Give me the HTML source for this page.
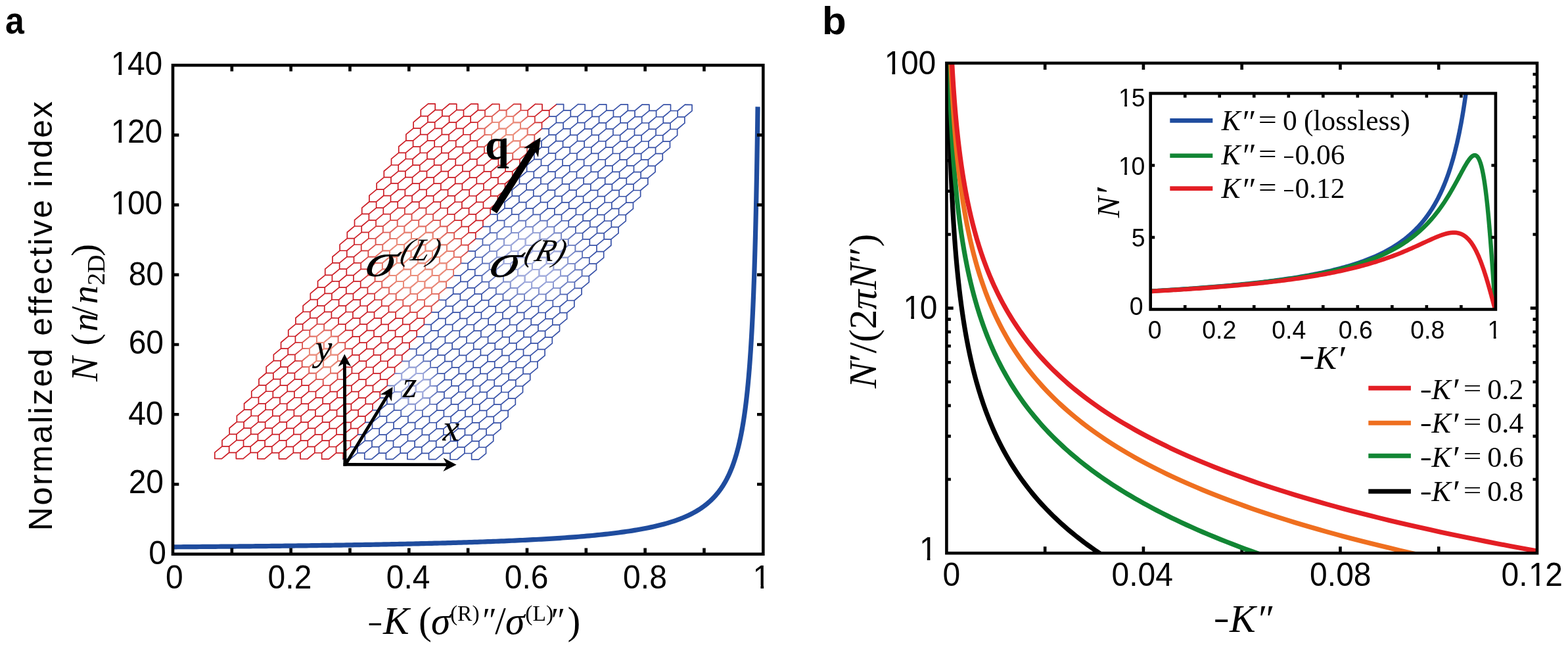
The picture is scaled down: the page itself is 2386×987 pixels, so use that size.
<!DOCTYPE html>
<html><head><meta charset="utf-8"><title>Figure</title>
<style>html,body{margin:0;padding:0;background:#fff;}svg{display:block;}</style>
</head><body>
<svg width="2386" height="987" viewBox="0 0 2386 987">
<rect width="2386" height="987" fill="#fff"/>
<defs>
<clipPath id="cpa"><rect x="263" y="99.2" width="898.3" height="743.5"/></clipPath>
<clipPath id="cpb"><rect x="1440.4" y="96" width="898.6" height="745.2"/></clipPath>
<clipPath id="cpi"><rect x="1750.7" y="142" width="525.2" height="328.5"/></clipPath>
</defs>
<defs>
<path id="lr" d="M651.5 157.9L662.19 157.96M662.19 157.96L662.19 167.26M662.19 167.26L650.99 176.56M650.99 176.56L640.3 176.51M640.3 176.51L640.3 167.2M640.3 167.2L651.5 157.9M684.07 158.01L694.76 158.06M694.76 158.06L694.76 167.37M694.76 167.37L683.56 176.67M683.56 176.67L672.87 176.62M672.87 176.62L672.87 167.31M672.87 167.31L684.07 158.01M716.64 158.12L727.33 158.18M727.33 158.18L727.33 167.48M727.33 167.48L716.13 176.78M716.13 176.78L705.45 176.73M705.45 176.73L705.45 167.42M705.45 167.42L716.64 158.12M749.21 158.23L759.9 158.29M759.9 158.29L759.9 167.59M759.9 167.59L748.7 176.89M748.7 176.89L738.02 176.84M738.02 176.84L738.02 167.53M738.02 167.53L749.21 158.23M781.78 158.34L792.47 158.4M792.47 158.4L792.47 167.7M792.47 167.7L781.27 177M781.27 177L770.59 176.95M770.59 176.95L770.59 167.64M770.59 167.64L781.78 158.34M814.36 158.45L825.04 158.5M825.04 158.5L825.04 167.81M825.04 167.81L813.85 177.11M813.85 177.11L803.16 177.06M803.16 177.06L803.16 167.75M803.16 167.75L814.36 158.45M835.73 177.17L835.73 167.86M835.73 167.86L846.93 158.56M662.19 167.26L672.87 167.31M672.87 176.62L661.68 185.92M661.68 185.92L650.99 185.87M650.99 185.87L650.99 176.56M694.76 167.37L705.45 167.42M705.45 176.73L694.25 186.03M694.25 186.03L683.56 185.98M683.56 185.98L683.56 176.67M727.33 167.48L738.02 167.53M738.02 176.84L726.82 186.14M726.82 186.14L716.13 186.09M716.13 186.09L716.13 176.78M759.9 167.59L770.59 167.64M770.59 176.95L759.39 186.25M759.39 186.25L748.7 186.2M748.7 186.2L748.7 176.89M792.47 167.7L803.16 167.75M803.16 177.06L791.96 186.36M791.96 186.36L781.27 186.31M781.27 186.31L781.27 177M825.04 167.81L835.73 167.86M835.73 177.17L824.53 186.47M824.53 186.47L813.85 186.42M813.85 186.42L813.85 177.11M650.99 185.87L639.79 195.17M639.79 195.17L629.11 195.11M629.11 195.11L629.11 185.81M629.11 185.81L640.3 176.51M683.56 185.98L672.36 195.28M672.36 195.28L661.68 195.22M661.68 195.22L661.68 185.92M716.13 186.09L704.93 195.39M704.93 195.39L694.25 195.33M694.25 195.33L694.25 186.03M748.7 186.2L737.51 195.5M737.51 195.5L726.82 195.44M726.82 195.44L726.82 186.14M781.27 186.31L770.08 195.61M770.08 195.61L759.39 195.55M759.39 195.55L759.39 186.25M813.85 186.42L802.65 195.72M802.65 195.72L791.96 195.66M791.96 195.66L791.96 186.36M824.53 195.77L824.53 186.47M661.68 195.22L650.48 204.53M650.48 204.53L639.79 204.47M639.79 204.47L639.79 195.17M694.25 195.33L683.05 204.64M683.05 204.64L672.36 204.58M672.36 204.58L672.36 195.28M726.82 195.44L715.62 204.75M715.62 204.75L704.94 204.69M704.94 204.69L704.94 195.39M759.39 195.55L748.19 204.86M748.19 204.86L737.51 204.8M737.51 204.8L737.51 195.5M791.96 195.66L780.76 204.97M780.76 204.97L770.08 204.91M770.08 204.91L770.08 195.61M824.53 195.77L813.34 205.08M813.34 205.08L802.65 205.02M802.65 205.02L802.65 195.72M639.79 204.47L628.6 213.78M628.6 213.78L617.91 213.72M617.91 213.72L617.91 204.42M617.91 204.42L629.11 195.11M672.36 204.58L661.17 213.89M661.17 213.89L650.48 213.83M650.48 213.83L650.48 204.53M704.94 204.69L693.74 214M693.74 214L683.05 213.94M683.05 213.94L683.05 204.64M737.51 204.8L726.31 214.11M726.31 214.11L715.62 214.05M715.62 214.05L715.62 204.75M770.08 204.91L758.88 214.22M758.88 214.22L748.19 214.16M748.19 214.16L748.19 204.86M802.65 205.02L791.45 214.33M791.45 214.33L780.76 214.27M780.76 214.27L780.76 204.97M813.33 214.38L813.33 205.08M650.48 213.83L639.28 223.13M639.28 223.13L628.6 223.08M628.6 223.08L628.6 213.78M683.05 213.94L671.85 223.24M671.85 223.24L661.17 223.19M661.17 223.19L661.17 213.89M715.62 214.05L704.42 223.35M704.42 223.35L693.74 223.3M693.74 223.3L693.74 214M748.19 214.16L737 223.46M737 223.46L726.31 223.41M726.31 223.41L726.31 214.11M780.76 214.27L769.57 223.57M769.57 223.57L758.88 223.52M758.88 223.52L758.88 214.22M813.34 214.38L802.14 223.68M802.14 223.68L791.45 223.63M791.45 223.63L791.45 214.33M628.6 223.08L617.4 232.38M617.4 232.38L606.71 232.33M606.71 232.33L606.71 223.02M606.71 223.02L617.91 213.72M661.17 223.19L649.97 232.49M649.97 232.49L639.28 232.44M639.28 232.44L639.28 223.13M693.74 223.3L682.54 232.6M682.54 232.6L671.85 232.55M671.85 232.55L671.85 223.24M726.31 223.41L715.11 232.71M715.11 232.71L704.42 232.66M704.42 232.66L704.42 223.35M758.88 223.52L747.68 232.82M747.68 232.82L737 232.77M737 232.77L737 223.46M791.45 223.63L780.25 232.93M780.25 232.93L769.57 232.88M769.57 232.88L769.57 223.57M802.14 232.99L802.14 223.68M639.28 232.44L628.09 241.74M628.09 241.74L617.4 241.69M617.4 241.69L617.4 232.38M671.85 232.55L660.66 241.85M660.66 241.85L649.97 241.8M649.97 241.8L649.97 232.49M704.43 232.66L693.23 241.96M693.23 241.96L682.54 241.91M682.54 241.91L682.54 232.6M737 232.77L725.8 242.07M725.8 242.07L715.11 242.02M715.11 242.02L715.11 232.71M769.57 232.88L758.37 242.18M758.37 242.18L747.68 242.13M747.68 242.13L747.68 232.82M802.14 232.99L790.94 242.29M790.94 242.29L780.25 242.24M780.25 242.24L780.25 232.93M617.4 241.69L606.2 250.99M606.2 250.99L595.51 250.94M595.51 250.94L595.51 241.63M595.51 241.63L606.71 232.33M649.97 241.8L638.77 251.1M638.77 251.1L628.09 251.04M628.09 251.04L628.09 241.74M682.54 241.91L671.34 251.21M671.34 251.21L660.66 251.15M660.66 251.15L660.66 241.85M715.11 242.02L703.91 251.32M703.91 251.32L693.23 251.26M693.23 251.26L693.23 241.96M747.68 242.13L736.49 251.43M736.49 251.43L725.8 251.38M725.8 251.38L725.8 242.07M780.25 242.24L769.06 251.54M769.06 251.54L758.37 251.48M758.37 251.48L758.37 242.18M790.94 251.59L790.94 242.29M628.09 251.05L616.89 260.35M616.89 260.35L606.2 260.29M606.2 260.29L606.2 250.99M660.66 251.15L649.46 260.46M649.46 260.46L638.77 260.4M638.77 260.4L638.77 251.1M693.23 251.26L682.03 260.57M682.03 260.57L671.34 260.51M671.34 260.51L671.34 251.21M725.8 251.38L714.6 260.68M714.6 260.68L703.91 260.62M703.91 260.62L703.91 251.32M758.37 251.49L747.17 260.79M747.17 260.79L736.49 260.73M736.49 260.73L736.49 251.43M790.94 251.59L779.74 260.9M779.74 260.9L769.06 260.84M769.06 260.84L769.06 251.54M606.2 260.29L595 269.6M595 269.6L584.32 269.54M584.32 269.54L584.32 260.24M584.32 260.24L595.51 250.94M638.77 260.4L627.58 269.71M627.58 269.71L616.89 269.65M616.89 269.65L616.89 260.35M671.34 260.51L660.15 269.82M660.15 269.82L649.46 269.76M649.46 269.76L649.46 260.46M703.91 260.62L692.72 269.93M692.72 269.93L682.03 269.87M682.03 269.87L682.03 260.57M736.49 260.73L725.29 270.04M725.29 270.04L714.6 269.98M714.6 269.98L714.6 260.68M769.06 260.84L757.86 270.15M757.86 270.15L747.17 270.09M747.17 270.09L747.17 260.79M779.74 270.2L779.74 260.9M616.89 269.65L605.69 278.96M605.69 278.96L595 278.9M595 278.9L595 269.6M649.46 269.76L638.26 279.07M638.26 279.07L627.58 279.01M627.58 279.01L627.58 269.71M682.03 269.87L670.83 279.18M670.83 279.18L660.15 279.12M660.15 279.12L660.15 269.82M714.6 269.98L703.4 279.29M703.4 279.29L692.72 279.23M692.72 279.23L692.72 269.93M747.17 270.09L735.98 279.4M735.98 279.4L725.29 279.34M725.29 279.34L725.29 270.04M779.74 270.2L768.55 279.51M768.55 279.51L757.86 279.45M757.86 279.45L757.86 270.15M595 278.9L583.81 288.2M583.81 288.2L573.12 288.15M573.12 288.15L573.12 278.85M573.12 278.85L584.32 269.54M627.58 279.01L616.38 288.31M616.38 288.31L605.69 288.26M605.69 288.26L605.69 278.96M660.15 279.12L648.95 288.42M648.95 288.42L638.26 288.37M638.26 288.37L638.26 279.07M692.72 279.23L681.52 288.53M681.52 288.53L670.83 288.48M670.83 288.48L670.83 279.18M725.29 279.34L714.09 288.64M714.09 288.64L703.4 288.59M703.4 288.59L703.4 279.29M757.86 279.45L746.66 288.75M746.66 288.75L735.98 288.7M735.98 288.7L735.98 279.4M768.55 288.81L768.55 279.51M605.69 288.26L594.5 297.56M594.5 297.56L583.81 297.51M583.81 297.51L583.81 288.2M638.26 288.37L627.07 297.67M627.07 297.67L616.38 297.62M616.38 297.62L616.38 288.31M670.83 288.48L659.64 297.78M659.64 297.78L648.95 297.73M648.95 297.73L648.95 288.42M703.4 288.59L692.21 297.89M692.21 297.89L681.52 297.84M681.52 297.84L681.52 288.53M735.98 288.7L724.78 298M724.78 298L714.09 297.95M714.09 297.95L714.09 288.64M768.55 288.81L757.35 298.11M757.35 298.11L746.66 298.06M746.66 298.06L746.66 288.75M583.81 297.51L572.61 306.81M572.61 306.81L561.92 306.76M561.92 306.76L561.92 297.45M561.92 297.45L573.12 288.15M616.38 297.62L605.18 306.92M605.18 306.92L594.5 306.87M594.5 306.87L594.5 297.56M648.95 297.73L637.75 307.03M637.75 307.03L627.07 306.98M627.07 306.98L627.07 297.67M681.52 297.84L670.32 307.14M670.32 307.14L659.64 307.09M659.64 307.09L659.64 297.78M714.09 297.95L702.89 307.25M702.89 307.25L692.21 307.2M692.21 307.2L692.21 297.89M746.66 298.06L735.47 307.36M735.47 307.36L724.78 307.31M724.78 307.31L724.78 298M757.35 307.42L757.35 298.11M594.5 306.87L583.3 316.17M583.3 316.17L572.61 316.11M572.61 316.11L572.61 306.81M627.07 306.98L615.87 316.28M615.87 316.28L605.18 316.22M605.18 316.22L605.18 306.92M659.64 307.09L648.44 316.39M648.44 316.39L637.75 316.33M637.75 316.33L637.75 307.03M692.21 307.2L681.01 316.5M681.01 316.5L670.32 316.44M670.32 316.44L670.32 307.14M724.78 307.31L713.58 316.61M713.58 316.61L702.89 316.55M702.89 316.55L702.89 307.25M757.35 307.42L746.15 316.72M746.15 316.72L735.47 316.66M735.47 316.66L735.47 307.36M572.61 316.11L561.41 325.42M561.41 325.42L550.73 325.36M550.73 325.36L550.73 316.06M550.73 316.06L561.92 306.76M605.18 316.22L593.99 325.53M593.99 325.53L583.3 325.47M583.3 325.47L583.3 316.17M637.75 316.33L626.56 325.64M626.56 325.64L615.87 325.58M615.87 325.58L615.87 316.28M670.32 316.44L659.13 325.75M659.13 325.75L648.44 325.69M648.44 325.69L648.44 316.39M702.89 316.55L691.7 325.86M691.7 325.86L681.01 325.8M681.01 325.8L681.01 316.5M735.47 316.66L724.27 325.97M724.27 325.97L713.58 325.91M713.58 325.91L713.58 316.61M746.15 326.02L746.15 316.72M583.3 325.47L572.1 334.78M572.1 334.78L561.41 334.72M561.41 334.72L561.41 325.42M615.87 325.58L604.67 334.89M604.67 334.89L593.99 334.83M593.99 334.83L593.99 325.53M648.44 325.69L637.24 335M637.24 335L626.56 334.94M626.56 334.94L626.56 325.64M681.01 325.8L669.81 335.11M669.81 335.11L659.13 335.05M659.13 335.05L659.13 325.75M713.58 325.91L702.38 335.22M702.38 335.22L691.7 335.16M691.7 335.16L691.7 325.86M746.15 326.02L734.96 335.33M734.96 335.33L724.27 335.27M724.27 335.27L724.27 325.97M561.41 334.72L550.22 344.02M550.22 344.02L539.53 343.97M539.53 343.97L539.53 334.67M539.53 334.67L550.73 325.36M593.99 334.83L582.79 344.13M582.79 344.13L572.1 344.08M572.1 344.08L572.1 334.78M626.56 334.94L615.36 344.24M615.36 344.24L604.67 344.19M604.67 344.19L604.67 334.89M659.13 335.05L647.93 344.35M647.93 344.35L637.24 344.3M637.24 344.3L637.24 335M691.7 335.16L680.5 344.46M680.5 344.46L669.81 344.41M669.81 344.41L669.81 335.11M724.27 335.27L713.07 344.57M713.07 344.57L702.38 344.52M702.38 344.52L702.38 335.22M734.96 344.63L734.96 335.33M572.1 344.08L560.9 353.38M560.9 353.38L550.22 353.33M550.22 353.33L550.22 344.02M604.67 344.19L593.48 353.49M593.48 353.49L582.79 353.44M582.79 353.44L582.79 344.13M637.24 344.3L626.05 353.6M626.05 353.6L615.36 353.55M615.36 353.55L615.36 344.25M669.81 344.41L658.62 353.71M658.62 353.71L647.93 353.66M647.93 353.66L647.93 344.35M702.38 344.52L691.19 353.82M691.19 353.82L680.5 353.77M680.5 353.77L680.5 344.46M734.96 344.63L723.76 353.93M723.76 353.93L713.07 353.88M713.07 353.88L713.07 344.57M550.22 353.33L539.02 362.63M539.02 362.63L528.33 362.58M528.33 362.58L528.33 353.27M528.33 353.27L539.53 343.97M582.79 353.44L571.59 362.74M571.59 362.74L560.9 362.69M560.9 362.69L560.9 353.38M615.36 353.55L604.16 362.85M604.16 362.85L593.48 362.8M593.48 362.8L593.48 353.49M647.93 353.66L636.73 362.96M636.73 362.96L626.05 362.91M626.05 362.91L626.05 353.6M680.5 353.77L669.3 363.07M669.3 363.07L658.62 363.02M658.62 363.02L658.62 353.71M713.07 353.88L701.88 363.18M701.88 363.18L691.19 363.13M691.19 363.13L691.19 353.82M723.76 363.24L723.76 353.93M560.9 362.69L549.71 371.99M549.71 371.99L539.02 371.94M539.02 371.94L539.02 362.63M593.48 362.8L582.28 372.1M582.28 372.1L571.59 372.05M571.59 372.05L571.59 362.74M626.05 362.91L614.85 372.21M614.85 372.21L604.16 372.16M604.16 372.16L604.16 362.85M658.62 363.02L647.42 372.32M647.42 372.32L636.73 372.27M636.73 372.27L636.73 362.96M691.19 363.13L679.99 372.43M679.99 372.43L669.3 372.38M669.3 372.38L669.3 363.07M723.76 363.24L712.56 372.54M712.56 372.54L701.88 372.49M701.88 372.49L701.88 363.18M539.02 371.94L527.82 381.24M527.82 381.24L517.14 381.18M517.14 381.18L517.14 371.88M517.14 371.88L528.33 362.58M571.59 372.05L560.39 381.35M560.39 381.35L549.71 381.29M549.71 381.29L549.71 371.99M604.16 372.16L592.96 381.46M592.96 381.46L582.28 381.4M582.28 381.4L582.28 372.1M636.73 372.27L625.54 381.57M625.54 381.57L614.85 381.51M614.85 381.51L614.85 372.21M669.3 372.38L658.11 381.68M658.11 381.68L647.42 381.62M647.42 381.62L647.42 372.32M701.88 372.49L690.68 381.79M690.68 381.79L679.99 381.73M679.99 381.73L679.99 372.43M712.56 381.84L712.56 372.54M549.71 381.29L538.51 390.6M538.51 390.6L527.82 390.54M527.82 390.54L527.82 381.24M582.28 381.4L571.08 390.71M571.08 390.71L560.39 390.65M560.39 390.65L560.39 381.35M614.85 381.51L603.65 390.82M603.65 390.82L592.97 390.76M592.97 390.76L592.97 381.46M647.42 381.62L636.22 390.93M636.22 390.93L625.54 390.87M625.54 390.87L625.54 381.57M679.99 381.73L668.79 391.04M668.79 391.04L658.11 390.98M658.11 390.98L658.11 381.68M712.56 381.84L701.37 391.15M701.37 391.15L690.68 391.09M690.68 391.09L690.68 381.79M527.82 390.54L516.63 399.85M516.63 399.85L505.94 399.79M505.94 399.79L505.94 390.49M505.94 390.49L517.14 381.18M560.39 390.65L549.2 399.96M549.2 399.96L538.51 399.9M538.51 399.9L538.51 390.6M592.97 390.76L581.77 400.07M581.77 400.07L571.08 400.01M571.08 400.01L571.08 390.71M625.54 390.87L614.34 400.18M614.34 400.18L603.65 400.12M603.65 400.12L603.65 390.82M658.11 390.98L646.91 400.29M646.91 400.29L636.22 400.23M636.22 400.23L636.22 390.93M690.68 391.09L679.48 400.4M679.48 400.4L668.79 400.34M668.79 400.34L668.79 391.04M701.36 400.45L701.36 391.15M538.51 399.9L527.31 409.2M527.31 409.2L516.63 409.15M516.63 409.15L516.63 399.85M571.08 400.01L559.88 409.31M559.88 409.31L549.2 409.26M549.2 409.26L549.2 399.96M603.65 400.12L592.45 409.42M592.45 409.42L581.77 409.37M581.77 409.37L581.77 400.07M636.22 400.23L625.03 409.53M625.03 409.53L614.34 409.48M614.34 409.48L614.34 400.18M668.79 400.34L657.6 409.64M657.6 409.64L646.91 409.59M646.91 409.59L646.91 400.29M701.37 400.45L690.17 409.75M690.17 409.75L679.48 409.7M679.48 409.7L679.48 400.4M516.63 409.15L505.43 418.45M505.43 418.45L494.74 418.4M494.74 418.4L494.74 409.09M494.74 409.09L505.94 399.79M549.2 409.26L538 418.56M538 418.56L527.31 418.51M527.31 418.51L527.31 409.2M581.77 409.37L570.57 418.67M570.57 418.67L559.88 418.62M559.88 418.62L559.88 409.31M614.34 409.48L603.14 418.78M603.14 418.78L592.46 418.73M592.46 418.73L592.46 409.42M646.91 409.59L635.71 418.89M635.71 418.89L625.03 418.84M625.03 418.84L625.03 409.53M679.48 409.7L668.28 419M668.28 419L657.6 418.95M657.6 418.95L657.6 409.64M690.17 419.06L690.17 409.75M527.31 418.51L516.12 427.81M516.12 427.81L505.43 427.76M505.43 427.76L505.43 418.45M559.88 418.62L548.69 427.92M548.69 427.92L538 427.87M538 427.87L538 418.56M592.46 418.73L581.26 428.03M581.26 428.03L570.57 427.98M570.57 427.98L570.57 418.67M625.03 418.84L613.83 428.14M613.83 428.14L603.14 428.09M603.14 428.09L603.14 418.78M657.6 418.95L646.4 428.25M646.4 428.25L635.71 428.2M635.71 428.2L635.71 418.89M690.17 419.06L678.97 428.36M678.97 428.36L668.28 428.31M668.28 428.31L668.28 419M505.43 427.76L494.23 437.06M494.23 437.06L483.55 437M483.55 437L483.55 427.7M483.55 427.7L494.74 418.4M538 427.87L526.8 437.17M526.8 437.17L516.12 437.12M516.12 437.12L516.12 427.81M570.57 427.98L559.37 437.28M559.37 437.28L548.69 437.23M548.69 437.23L548.69 427.92M603.14 428.09L591.95 437.39M591.95 437.39L581.26 437.33M581.26 437.33L581.26 428.03M635.71 428.2L624.52 437.5M624.52 437.5L613.83 437.44M613.83 437.44L613.83 428.14M668.28 428.31L657.09 437.61M657.09 437.61L646.4 437.56M646.4 437.56L646.4 428.25M678.97 437.66L678.97 428.36M516.12 437.12L504.92 446.42M504.92 446.42L494.23 446.36M494.23 446.36L494.23 437.06M548.69 437.23L537.49 446.53M537.49 446.53L526.8 446.47M526.8 446.47L526.8 437.17M581.26 437.33L570.06 446.64M570.06 446.64L559.37 446.58M559.37 446.58L559.37 437.28M613.83 437.44L602.63 446.75M602.63 446.75L591.95 446.69M591.95 446.69L591.95 437.39M646.4 437.56L635.2 446.86M635.2 446.86L624.52 446.8M624.52 446.8L624.52 437.5M678.97 437.67L667.77 446.97M667.77 446.97L657.09 446.91M657.09 446.91L657.09 437.61M494.23 446.36L483.04 455.67M483.04 455.67L472.35 455.61M472.35 455.61L472.35 446.31M472.35 446.31L483.55 437M526.8 446.47L515.61 455.78M515.61 455.78L504.92 455.72M504.92 455.72L504.92 446.42M559.37 446.58L548.18 455.89M548.18 455.89L537.49 455.83M537.49 455.83L537.49 446.53M591.95 446.69L580.75 456M580.75 456L570.06 455.94M570.06 455.94L570.06 446.64M624.52 446.8L613.32 456.11M613.32 456.11L602.63 456.05M602.63 456.05L602.63 446.75M657.09 446.91L645.89 456.22M645.89 456.22L635.2 456.16M635.2 456.16L635.2 446.86M667.77 456.27L667.77 446.97M504.92 455.72L493.72 465.03M493.72 465.03L483.04 464.97M483.04 464.97L483.04 455.67M537.49 455.83L526.29 465.14M526.29 465.14L515.61 465.08M515.61 465.08L515.61 455.78M570.06 455.94L558.86 465.25M558.86 465.25L548.18 465.19M548.18 465.19L548.18 455.89M602.63 456.05L591.44 465.36M591.44 465.36L580.75 465.3M580.75 465.3L580.75 456M635.2 456.16L624.01 465.47M624.01 465.47L613.32 465.41M613.32 465.41L613.32 456.11M667.77 456.27L656.58 465.58M656.58 465.58L645.89 465.52M645.89 465.52L645.89 456.22M483.04 464.97L471.84 474.27M471.84 474.27L461.15 474.22M461.15 474.22L461.15 464.92M461.15 464.92L472.35 455.61M515.61 465.08L504.41 474.38M504.41 474.38L493.72 474.33M493.72 474.33L493.72 465.03M548.18 465.19L536.98 474.49M536.98 474.49L526.29 474.44M526.29 474.44L526.29 465.14M580.75 465.3L569.55 474.6M569.55 474.6L558.86 474.55M558.86 474.55L558.86 465.25M613.32 465.41L602.12 474.71M602.12 474.71L591.44 474.66M591.44 474.66L591.44 465.36M645.89 465.52L634.69 474.82M634.69 474.82L624.01 474.77M624.01 474.77L624.01 465.47M656.58 474.88L656.58 465.58M493.72 474.33L482.53 483.63M482.53 483.63L471.84 483.58M471.84 483.58L471.84 474.27M526.29 474.44L515.1 483.74M515.1 483.74L504.41 483.69M504.41 483.69L504.41 474.38M558.86 474.55L547.67 483.85M547.67 483.85L536.98 483.8M536.98 483.8L536.98 474.49M591.44 474.66L580.24 483.96M580.24 483.96L569.55 483.91M569.55 483.91L569.55 474.6M624.01 474.77L612.81 484.07M612.81 484.07L602.12 484.02M602.12 484.02L602.12 474.71M656.58 474.88L645.38 484.18M645.38 484.18L634.69 484.13M634.69 484.13L634.69 474.82M471.84 483.58L460.64 492.88M460.64 492.88L449.95 492.83M449.95 492.83L449.95 483.52M449.95 483.52L461.15 474.22M504.41 483.69L493.21 492.99M493.21 492.99L482.52 492.94M482.52 492.94L482.52 483.63M536.98 483.8L525.78 493.1M525.78 493.1L515.1 493.05M515.1 493.05L515.1 483.74M569.55 483.91L558.35 493.21M558.35 493.21L547.67 493.16M547.67 493.16L547.67 483.85M602.12 484.02L590.92 493.32M590.92 493.32L580.24 493.27M580.24 493.27L580.24 483.96M634.69 484.13L623.5 493.43M623.5 493.43L612.81 493.38M612.81 493.38L612.81 484.07M645.38 493.49L645.38 484.18M482.53 492.94L471.33 502.24M471.33 502.24L460.64 502.18M460.64 502.18L460.64 492.88M515.1 493.05L503.9 502.35M503.9 502.35L493.21 502.29M493.21 502.29L493.21 492.99M547.67 493.16L536.47 502.46M536.47 502.46L525.78 502.4M525.78 502.4L525.78 493.1M580.24 493.27L569.04 502.57M569.04 502.57L558.35 502.51M558.35 502.51L558.35 493.21M612.81 493.38L601.61 502.68M601.61 502.68L590.93 502.62M590.93 502.62L590.93 493.32M645.38 493.49L634.18 502.79M634.18 502.79L623.5 502.73M623.5 502.73L623.5 493.43M460.64 502.18L449.44 511.49M449.44 511.49L438.76 511.43M438.76 511.43L438.76 502.13M438.76 502.13L449.95 492.83M493.21 502.29L482.01 511.6M482.01 511.6L471.33 511.54M471.33 511.54L471.33 502.24M525.78 502.4L514.59 511.71M514.59 511.71L503.9 511.65M503.9 511.65L503.9 502.35M558.35 502.51L547.16 511.82M547.16 511.82L536.47 511.76M536.47 511.76L536.47 502.46M590.93 502.62L579.73 511.93M579.73 511.93L569.04 511.87M569.04 511.87L569.04 502.57M623.5 502.73L612.3 512.04M612.3 512.04L601.61 511.98M601.61 511.98L601.61 502.68M634.18 512.09L634.18 502.79M471.33 511.54L460.13 520.85M460.13 520.85L449.44 520.79M449.44 520.79L449.44 511.49M503.9 511.65L492.7 520.96M492.7 520.96L482.01 520.9M482.01 520.9L482.01 511.6M536.47 511.76L525.27 521.07M525.27 521.07L514.59 521.01M514.59 521.01L514.59 511.71M569.04 511.87L557.84 521.18M557.84 521.18L547.16 521.12M547.16 521.12L547.16 511.82M601.61 511.98L590.41 521.29M590.41 521.29L579.73 521.23M579.73 521.23L579.73 511.93M634.18 512.09L622.99 521.4M622.99 521.4L612.3 521.34M612.3 521.34L612.3 512.04M449.44 520.79L438.25 530.1M438.25 530.1L427.56 530.04M427.56 530.04L427.56 520.74M427.56 520.74L438.76 511.43M482.01 520.9L470.82 530.21M470.82 530.21L460.13 530.15M460.13 530.15L460.13 520.85M514.59 521.01L503.39 530.32M503.39 530.32L492.7 530.26M492.7 530.26L492.7 520.96M547.16 521.12L535.96 530.42M535.96 530.42L525.27 530.37M525.27 530.37L525.27 521.07M579.73 521.23L568.53 530.53M568.53 530.53L557.84 530.48M557.84 530.48L557.84 521.18M612.3 521.34L601.1 530.64M601.1 530.64L590.41 530.59M590.41 530.59L590.41 521.29M622.99 530.7L622.99 521.4M460.13 530.15L448.93 539.45M448.93 539.45L438.25 539.4M438.25 539.4L438.25 530.1M492.7 530.26L481.5 539.56M481.5 539.56L470.82 539.51M470.82 539.51L470.82 530.21M525.27 530.37L514.08 539.67M514.08 539.67L503.39 539.62M503.39 539.62L503.39 530.32M557.84 530.48L546.65 539.78M546.65 539.78L535.96 539.73M535.96 539.73L535.96 530.43M590.42 530.59L579.22 539.89M579.22 539.89L568.53 539.84M568.53 539.84L568.53 530.54M622.99 530.7L611.79 540M611.79 540L601.1 539.95M601.1 539.95L601.1 530.64M438.25 539.4L427.05 548.7M427.05 548.7L416.36 548.65M416.36 548.65L416.36 539.34M416.36 539.34L427.56 530.04M470.82 539.51L459.62 548.81M459.62 548.81L448.93 548.76M448.93 548.76L448.93 539.45M503.39 539.62L492.19 548.92M492.19 548.92L481.5 548.87M481.5 548.87L481.5 539.56M535.96 539.73L524.76 549.03M524.76 549.03L514.08 548.98M514.08 548.98L514.08 539.67M568.53 539.84L557.33 549.14M557.33 549.14L546.65 549.09M546.65 549.09L546.65 539.78M601.1 539.95L589.9 549.25M589.9 549.25L579.22 549.2M579.22 549.2L579.22 539.89M611.79 549.31L611.79 540M448.93 548.76L437.74 558.06M437.74 558.06L427.05 558.01M427.05 558.01L427.05 548.7M481.5 548.87L470.31 558.17M470.31 558.17L459.62 558.12M459.62 558.12L459.62 548.81M514.08 548.98L502.88 558.28M502.88 558.28L492.19 558.23M492.19 558.23L492.19 548.92M546.65 549.09L535.45 558.39M535.45 558.39L524.76 558.34M524.76 558.34L524.76 549.03M579.22 549.2L568.02 558.5M568.02 558.5L557.33 558.45M557.33 558.45L557.33 549.14M611.79 549.31L600.59 558.61M600.59 558.61L589.9 558.56M589.9 558.56L589.9 549.25M427.05 558.01L415.85 567.31M415.85 567.31L405.17 567.25M405.17 567.25L405.17 557.95M405.17 557.95L416.36 548.65M459.62 558.12L448.42 567.42M448.42 567.42L437.74 567.36M437.74 567.36L437.74 558.06M492.19 558.23L481 567.53M481 567.53L470.31 567.47M470.31 567.47L470.31 558.17M524.76 558.34L513.57 567.64M513.57 567.64L502.88 567.58M502.88 567.58L502.88 558.28M557.33 558.45L546.14 567.75M546.14 567.75L535.45 567.69M535.45 567.69L535.45 558.39M589.91 558.56L578.71 567.86M578.71 567.86L568.02 567.8M568.02 567.8L568.02 558.5M600.59 567.91L600.59 558.61M437.74 567.36L426.54 576.67M426.54 576.67L415.85 576.61M415.85 576.61L415.85 567.31M470.31 567.47L459.11 576.78M459.11 576.78L448.42 576.72M448.42 576.72L448.42 567.42M502.88 567.58L491.68 576.89M491.68 576.89L481 576.83M481 576.83L481 567.53M535.45 567.69L524.25 577M524.25 577L513.57 576.94M513.57 576.94L513.57 567.64M568.02 567.8L556.82 577.11M556.82 577.11L546.14 577.05M546.14 577.05L546.14 567.75M600.59 567.91L589.4 577.22M589.4 577.22L578.71 577.16M578.71 577.16L578.71 567.86M415.85 576.61L404.66 585.92M404.66 585.92L393.97 585.86M393.97 585.86L393.97 576.56M393.97 576.56L405.17 567.25M448.42 576.72L437.23 586.03M437.23 586.03L426.54 585.97M426.54 585.97L426.54 576.67M481 576.83L469.8 586.14M469.8 586.14L459.11 586.08M459.11 586.08L459.11 576.78M513.57 576.94L502.37 586.25M502.37 586.25L491.68 586.19M491.68 586.19L491.68 576.89M546.14 577.05L534.94 586.36M534.94 586.36L524.25 586.3M524.25 586.3L524.25 577M578.71 577.16L567.51 586.47M567.51 586.47L556.82 586.41M556.82 586.41L556.82 577.11M589.4 586.52L589.4 577.22M426.54 585.97L415.34 595.27M415.34 595.27L404.66 595.22M404.66 595.22L404.66 585.92M459.11 586.08L447.91 595.38M447.91 595.38L437.23 595.33M437.23 595.33L437.23 586.03M491.68 586.19L480.49 595.49M480.49 595.49L469.8 595.44M469.8 595.44L469.8 586.14M524.25 586.3L513.06 595.6M513.06 595.6L502.37 595.55M502.37 595.55L502.37 586.25M556.82 586.41L545.63 595.71M545.63 595.71L534.94 595.66M534.94 595.66L534.94 586.36M589.4 586.52L578.2 595.82M578.2 595.82L567.51 595.77M567.51 595.77L567.51 586.47M404.66 595.22L393.46 604.52M393.46 604.52L382.77 604.47M382.77 604.47L382.77 595.16M382.77 595.16L393.97 585.86M437.23 595.33L426.03 604.63M426.03 604.63L415.34 604.58M415.34 604.58L415.34 595.27M469.8 595.44L458.6 604.74M458.6 604.74L447.91 604.69M447.91 604.69L447.91 595.38M502.37 595.55L491.17 604.85M491.17 604.85L480.49 604.8M480.49 604.8L480.49 595.49M534.94 595.66L523.74 604.96M523.74 604.96L513.06 604.91M513.06 604.91L513.06 595.6M567.51 595.77L556.31 605.07M556.31 605.07L545.63 605.02M545.63 605.02L545.63 595.71M578.2 605.13L578.2 595.82M415.34 604.58L404.15 613.88M404.15 613.88L393.46 613.83M393.46 613.83L393.46 604.52M447.91 604.69L436.72 613.99M436.72 613.99L426.03 613.94M426.03 613.94L426.03 604.63M480.49 604.8L469.29 614.1M469.29 614.1L458.6 614.05M458.6 614.05L458.6 604.74M513.06 604.91L501.86 614.21M501.86 614.21L491.17 614.16M491.17 614.16L491.17 604.85M545.63 605.02L534.43 614.32M534.43 614.32L523.74 614.27M523.74 614.27L523.74 604.96M578.2 605.13L567 614.43M567 614.43L556.31 614.38M556.31 614.38L556.31 605.07M393.46 613.83L382.26 623.13M382.26 623.13L371.58 623.07M371.58 623.07L371.58 613.77M371.58 613.77L382.77 604.47M426.03 613.94L414.83 623.24M414.83 623.24L404.15 623.18M404.15 623.18L404.15 613.88M458.6 614.05L447.4 623.35M447.4 623.35L436.72 623.29M436.72 623.29L436.72 613.99M491.17 614.16L479.98 623.46M479.98 623.46L469.29 623.4M469.29 623.4L469.29 614.1M523.74 614.27L512.55 623.57M512.55 623.57L501.86 623.51M501.86 623.51L501.86 614.21M556.31 614.38L545.12 623.68M545.12 623.68L534.43 623.62M534.43 623.62L534.43 614.32M567 623.73L567 614.43M404.15 623.18L392.95 632.49M392.95 632.49L382.26 632.43M382.26 632.43L382.26 623.13M436.72 623.29L425.52 632.6M425.52 632.6L414.83 632.54M414.83 632.54L414.83 623.24M469.29 623.4L458.09 632.71M458.09 632.71L447.4 632.65M447.4 632.65L447.4 623.35M501.86 623.51L490.66 632.82M490.66 632.82L479.98 632.76M479.98 632.76L479.98 623.46M534.43 623.62L523.23 632.93M523.23 632.93L512.55 632.87M512.55 632.87L512.55 623.57M567 623.73L555.8 633.04M555.8 633.04L545.12 632.98M545.12 632.98L545.12 623.68M382.26 632.43L371.07 641.74M371.07 641.74L360.38 641.68M360.38 641.68L360.38 632.38M360.38 632.38L371.58 623.07M414.83 632.54L403.64 641.85M403.64 641.85L392.95 641.79M392.95 641.79L392.95 632.49M447.4 632.65L436.21 641.96M436.21 641.96L425.52 641.9M425.52 641.9L425.52 632.6M479.98 632.76L468.78 642.07M468.78 642.07L458.09 642.01M458.09 642.01L458.09 632.71M512.55 632.87L501.35 642.18M501.35 642.18L490.66 642.12M490.66 642.12L490.66 632.82M545.12 632.98L533.92 642.29M533.92 642.29L523.23 642.23M523.23 642.23L523.23 632.93M555.8 642.34L555.8 633.04M392.95 641.79L381.75 651.1M381.75 651.1L371.07 651.04M371.07 651.04L371.07 641.74M425.52 641.9L414.32 651.21M414.32 651.21L403.64 651.15M403.64 651.15L403.64 641.85M458.09 642.01L446.89 651.32M446.89 651.32L436.21 651.26M436.21 651.26L436.21 641.96M490.66 642.12L479.47 651.43M479.47 651.43L468.78 651.37M468.78 651.37L468.78 642.07M523.23 642.23L512.04 651.54M512.04 651.54L501.35 651.48M501.35 651.48L501.35 642.18M555.8 642.34L544.61 651.65M544.61 651.65L533.92 651.59M533.92 651.59L533.92 642.29M371.07 651.04L359.87 660.34M359.87 660.34L349.18 660.29M349.18 660.29L349.18 650.99M349.18 650.99L360.38 641.68M403.64 651.15L392.44 660.45M392.44 660.45L381.75 660.4M381.75 660.4L381.75 651.1M436.21 651.26L425.01 660.56M425.01 660.56L414.32 660.51M414.32 660.51L414.32 651.21M468.78 651.37L457.58 660.67M457.58 660.67L446.89 660.62M446.89 660.62L446.89 651.32M501.35 651.48L490.15 660.78M490.15 660.78L479.47 660.73M479.47 660.73L479.47 651.43M533.92 651.59L522.72 660.89M522.72 660.89L512.04 660.84M512.04 660.84L512.04 651.54M544.61 660.95L544.61 651.65M381.75 660.4L370.56 669.7M370.56 669.7L359.87 669.65M359.87 669.65L359.87 660.34M414.32 660.51L403.13 669.81M403.13 669.81L392.44 669.76M392.44 669.76L392.44 660.45M446.89 660.62L435.7 669.92M435.7 669.92L425.01 669.87M425.01 669.87L425.01 660.56M479.47 660.73L468.27 670.03M468.27 670.03L457.58 669.98M457.58 669.98L457.58 660.67M512.04 660.84L500.84 670.14M500.84 670.14L490.15 670.09M490.15 670.09L490.15 660.78M544.61 660.95L533.41 670.25M533.41 670.25L522.72 670.2M522.72 670.2L522.72 660.89M359.87 669.65L348.67 678.95M348.67 678.95L337.98 678.9M337.98 678.9L337.98 669.59M337.98 669.59L349.18 660.29M392.44 669.76L381.24 679.06M381.24 679.06L370.56 679.01M370.56 679.01L370.56 669.7M425.01 669.87L413.81 679.17M413.81 679.17L403.13 679.12M403.13 679.12L403.13 669.81M457.58 669.98L446.38 679.28M446.38 679.28L435.7 679.23M435.7 679.23L435.7 669.92M490.15 670.09L478.96 679.39M478.96 679.39L468.27 679.34M468.27 679.34L468.27 670.03M522.72 670.2L511.53 679.5M511.53 679.5L500.84 679.45M500.84 679.45L500.84 670.14M533.41 679.56L533.41 670.25M370.56 679.01L359.36 688.31M359.36 688.31L348.67 688.25M348.67 688.25L348.67 678.95M403.13 679.12L391.93 688.42M391.93 688.42L381.24 688.36M381.24 688.36L381.24 679.06M435.7 679.23L424.5 688.53M424.5 688.53L413.81 688.47M413.81 688.47L413.81 679.17M468.27 679.34L457.07 688.64M457.07 688.64L446.38 688.58M446.38 688.58L446.38 679.28M500.84 679.45L489.64 688.75M489.64 688.75L478.96 688.69M478.96 688.69L478.96 679.39M533.41 679.56L522.21 688.86M522.21 688.86L511.53 688.8M511.53 688.8L511.53 679.5M348.67 688.25L337.47 697.56M337.47 697.56L326.79 697.5M326.79 697.5L326.79 688.2M326.79 688.2L337.98 678.9M381.24 688.36L370.05 697.67M370.05 697.67L359.36 697.61M359.36 697.61L359.36 688.31M413.81 688.47L402.62 697.78M402.62 697.78L391.93 697.72M391.93 697.72L391.93 688.42M446.38 688.58L435.19 697.89M435.19 697.89L424.5 697.83M424.5 697.83L424.5 688.53M478.96 688.69L467.76 698M467.76 698L457.07 697.94M457.07 697.94L457.07 688.64M511.53 688.8L500.33 698.11M500.33 698.11L489.64 698.05M489.64 698.05L489.64 688.75M522.21 698.16L522.21 688.86"/>
<path id="lb" d="M846.93 158.56L857.61 158.62M857.61 158.62L857.61 167.92M857.61 167.92L846.42 177.22M846.42 177.22L835.73 177.17M879.5 158.67L890.18 158.73M890.18 158.73L890.18 168.03M890.18 168.03L878.99 177.33M878.99 177.33L868.3 177.28M868.3 177.28L868.3 167.97M868.3 167.97L879.5 158.67M912.07 158.78L922.75 158.84M922.75 158.84L922.75 168.14M922.75 168.14L911.56 177.44M911.56 177.44L900.87 177.39M900.87 177.39L900.87 168.08M900.87 168.08L912.07 158.78M944.64 158.89L955.33 158.94M955.33 158.94L955.33 168.25M955.33 168.25L944.13 177.55M944.13 177.55L933.44 177.5M933.44 177.5L933.44 168.19M933.44 168.19L944.64 158.89M977.21 159L987.9 159.06M987.9 159.06L987.9 168.36M987.9 168.36L976.7 177.66M976.7 177.66L966.01 177.61M966.01 177.61L966.01 168.3M966.01 168.3L977.21 159M1009.78 159.11L1020.47 159.17M1020.47 159.17L1020.47 168.47M1020.47 168.47L1009.27 177.77M1009.27 177.77L998.58 177.72M998.58 177.72L998.58 168.41M998.58 168.41L1009.78 159.11M1042.35 159.22L1053.04 159.28M1053.04 159.28L1053.04 168.58M1053.04 168.58L1041.84 177.88M1041.84 177.88L1031.15 177.83M1031.15 177.83L1031.15 168.52M1031.15 168.52L1042.35 159.22M857.61 167.92L868.3 167.97M868.3 177.28L857.1 186.58M857.1 186.58L846.42 186.53M846.42 186.53L846.42 177.22M890.18 168.03L900.87 168.08M900.87 177.39L889.67 186.69M889.67 186.69L878.99 186.64M878.99 186.64L878.99 177.33M922.75 168.14L933.44 168.19M933.44 177.5L922.25 186.8M922.25 186.8L911.56 186.75M911.56 186.75L911.56 177.44M955.33 168.25L966.01 168.3M966.01 177.61L954.82 186.91M954.82 186.91L944.13 186.86M944.13 186.86L944.13 177.55M987.9 168.36L998.58 168.41M998.58 177.72L987.39 187.02M987.39 187.02L976.7 186.97M976.7 186.97L976.7 177.66M1020.47 168.47L1031.15 168.52M1031.15 177.83L1019.96 187.13M1019.96 187.13L1009.27 187.08M1009.27 187.08L1009.27 177.77M846.42 186.53L835.22 195.83M835.22 195.83L824.53 195.77M878.99 186.64L867.79 195.94M867.79 195.94L857.1 195.88M857.1 195.88L857.1 186.58M911.56 186.75L900.36 196.05M900.36 196.05L889.67 195.99M889.67 195.99L889.67 186.69M944.13 186.86L932.93 196.16M932.93 196.16L922.25 196.1M922.25 196.1L922.25 186.8M976.7 186.97L965.5 196.27M965.5 196.27L954.82 196.21M954.82 196.21L954.82 186.91M1009.27 187.08L998.07 196.38M998.07 196.38L987.39 196.32M987.39 196.32L987.39 187.02M1041.84 177.88L1041.84 187.19M1041.84 187.19L1030.64 196.49M1030.64 196.49L1019.96 196.43M1019.96 196.43L1019.96 187.13M857.1 195.88L845.91 205.19M845.91 205.19L835.22 205.13M835.22 205.13L835.22 195.83M889.67 195.99L878.48 205.3M878.48 205.3L867.79 205.24M867.79 205.24L867.79 195.94M922.25 196.1L911.05 205.41M911.05 205.41L900.36 205.35M900.36 205.35L900.36 196.05M954.82 196.21L943.62 205.52M943.62 205.52L932.93 205.46M932.93 205.46L932.93 196.16M987.39 196.32L976.19 205.63M976.19 205.63L965.5 205.57M965.5 205.57L965.5 196.27M1019.96 196.43L1008.76 205.74M1008.76 205.74L998.07 205.68M998.07 205.68L998.07 196.38M835.22 205.13L824.02 214.44M824.02 214.44L813.33 214.38M867.79 205.24L856.59 214.55M856.59 214.55L845.91 214.49M845.91 214.49L845.91 205.19M900.36 205.35L889.16 214.66M889.16 214.66L878.48 214.6M878.48 214.6L878.48 205.3M932.93 205.46L921.74 214.77M921.74 214.77L911.05 214.71M911.05 214.71L911.05 205.41M965.5 205.57L954.31 214.88M954.31 214.88L943.62 214.82M943.62 214.82L943.62 205.52M998.07 205.68L986.88 214.99M986.88 214.99L976.19 214.93M976.19 214.93L976.19 205.63M1030.64 196.49L1030.64 205.79M1030.64 205.79L1019.45 215.1M1019.45 215.1L1008.76 215.04M1008.76 215.04L1008.76 205.74M845.91 214.49L834.71 223.79M834.71 223.79L824.02 223.74M824.02 223.74L824.02 214.44M878.48 214.6L867.28 223.9M867.28 223.9L856.59 223.85M856.59 223.85L856.59 214.55M911.05 214.71L899.85 224.01M899.85 224.01L889.16 223.96M889.16 223.96L889.16 214.66M943.62 214.82L932.42 224.12M932.42 224.12L921.74 224.07M921.74 224.07L921.74 214.77M976.19 214.93L964.99 224.23M964.99 224.23L954.31 224.18M954.31 224.18L954.31 214.88M1008.76 215.04L997.56 224.34M997.56 224.34L986.88 224.29M986.88 224.29L986.88 214.99M824.02 223.74L812.83 233.04M812.83 233.04L802.14 232.99M856.59 223.85L845.4 233.15M845.4 233.15L834.71 233.1M834.71 233.1L834.71 223.79M889.16 223.96L877.97 233.26M877.97 233.26L867.28 233.21M867.28 233.21L867.28 223.9M921.74 224.07L910.54 233.37M910.54 233.37L899.85 233.32M899.85 233.32L899.85 224.01M954.31 224.18L943.11 233.48M943.11 233.48L932.42 233.43M932.42 233.43L932.42 224.12M986.88 224.29L975.68 233.59M975.68 233.59L964.99 233.54M964.99 233.54L964.99 224.23M1019.45 215.1L1019.45 224.4M1019.45 224.4L1008.25 233.7M1008.25 233.7L997.56 233.65M997.56 233.65L997.56 224.34M834.71 233.1L823.51 242.4M823.51 242.4L812.82 242.35M812.82 242.35L812.82 233.04M867.28 233.21L856.08 242.51M856.08 242.51L845.4 242.46M845.4 242.46L845.4 233.15M899.85 233.32L888.65 242.62M888.65 242.62L877.97 242.57M877.97 242.57L877.97 233.26M932.42 233.43L921.23 242.73M921.23 242.73L910.54 242.68M910.54 242.68L910.54 233.37M964.99 233.54L953.8 242.84M953.8 242.84L943.11 242.79M943.11 242.79L943.11 233.48M997.56 233.65L986.37 242.95M986.37 242.95L975.68 242.9M975.68 242.9L975.68 233.59M812.82 242.35L801.63 251.65M801.63 251.65L790.94 251.59M845.4 242.46L834.2 251.76M834.2 251.76L823.51 251.7M823.51 251.7L823.51 242.4M877.97 242.57L866.77 251.87M866.77 251.87L856.08 251.81M856.08 251.81L856.08 242.51M910.54 242.68L899.34 251.98M899.34 251.98L888.65 251.92M888.65 251.92L888.65 242.62M943.11 242.79L931.91 252.09M931.91 252.09L921.23 252.03M921.23 252.03L921.23 242.73M975.68 242.9L964.48 252.2M964.48 252.2L953.8 252.14M953.8 252.14L953.8 242.84M1008.25 233.7L1008.25 243.01M1008.25 243.01L997.05 252.31M997.05 252.31L986.37 252.25M986.37 252.25L986.37 242.95M823.51 251.7L812.32 261.01M812.32 261.01L801.63 260.95M801.63 260.95L801.63 251.65M856.08 251.81L844.89 261.12M844.89 261.12L834.2 261.06M834.2 261.06L834.2 251.76M888.65 251.93L877.46 261.23M877.46 261.23L866.77 261.17M866.77 261.17L866.77 251.87M921.23 252.03L910.03 261.34M910.03 261.34L899.34 261.28M899.34 261.28L899.34 251.98M953.8 252.14L942.6 261.45M942.6 261.45L931.91 261.39M931.91 261.39L931.91 252.09M986.37 252.25L975.17 261.56M975.17 261.56L964.48 261.5M964.48 261.5L964.48 252.2M801.63 260.95L790.43 270.26M790.43 270.26L779.74 270.2M834.2 261.06L823 270.37M823 270.37L812.31 270.31M812.31 270.31L812.31 261.01M866.77 261.17L855.57 270.48M855.57 270.48L844.89 270.42M844.89 270.42L844.89 261.12M899.34 261.28L888.14 270.59M888.14 270.59L877.46 270.53M877.46 270.53L877.46 261.23M931.91 261.39L920.71 270.7M920.71 270.7L910.03 270.64M910.03 270.64L910.03 261.34M964.48 261.5L953.29 270.81M953.29 270.81L942.6 270.75M942.6 270.75L942.6 261.45M997.05 252.31L997.05 261.61M997.05 261.61L985.86 270.92M985.86 270.92L975.17 270.86M975.17 270.86L975.17 261.56M812.31 270.31L801.12 279.62M801.12 279.62L790.43 279.56M790.43 279.56L790.43 270.26M844.89 270.42L833.69 279.73M833.69 279.73L823 279.67M823 279.67L823 270.37M877.46 270.53L866.26 279.84M866.26 279.84L855.57 279.78M855.57 279.78L855.57 270.48M910.03 270.64L898.83 279.95M898.83 279.95L888.14 279.89M888.14 279.89L888.14 270.59M942.6 270.75L931.4 280.06M931.4 280.06L920.72 280M920.72 280L920.72 270.7M975.17 270.86L963.97 280.17M963.97 280.17L953.29 280.11M953.29 280.11L953.29 270.81M790.43 279.56L779.23 288.86M779.23 288.86L768.55 288.81M823 279.67L811.8 288.97M811.8 288.97L801.12 288.92M801.12 288.92L801.12 279.62M855.57 279.78L844.38 289.08M844.38 289.08L833.69 289.03M833.69 289.03L833.69 279.73M888.14 279.89L876.95 289.19M876.95 289.19L866.26 289.14M866.26 289.14L866.26 279.84M920.72 280L909.52 289.3M909.52 289.3L898.83 289.25M898.83 289.25L898.83 279.95M953.29 280.11L942.09 289.41M942.09 289.41L931.4 289.36M931.4 289.36L931.4 280.06M985.86 270.92L985.86 280.22M985.86 280.22L974.66 289.52M974.66 289.52L963.97 289.47M963.97 289.47L963.97 280.17M801.12 288.92L789.92 298.22M789.92 298.22L779.23 298.17M779.23 298.17L779.23 288.86M833.69 289.03L822.49 298.33M822.49 298.33L811.8 298.28M811.8 298.28L811.8 288.97M866.26 289.14L855.06 298.44M855.06 298.44L844.38 298.39M844.38 298.39L844.38 289.08M898.83 289.25L887.63 298.55M887.63 298.55L876.95 298.5M876.95 298.5L876.95 289.19M931.4 289.36L920.2 298.66M920.2 298.66L909.52 298.61M909.52 298.61L909.52 289.3M963.97 289.47L952.78 298.77M952.78 298.77L942.09 298.72M942.09 298.72L942.09 289.41M779.23 298.17L768.04 307.47M768.04 307.47L757.35 307.42M811.8 298.28L800.61 307.58M800.61 307.58L789.92 307.53M789.92 307.53L789.92 298.22M844.38 298.39L833.18 307.69M833.18 307.69L822.49 307.64M822.49 307.64L822.49 298.33M876.95 298.5L865.75 307.8M865.75 307.8L855.06 307.75M855.06 307.75L855.06 298.44M909.52 298.61L898.32 307.91M898.32 307.91L887.63 307.86M887.63 307.86L887.63 298.55M942.09 298.72L930.89 308.02M930.89 308.02L920.2 307.97M920.2 307.97L920.2 298.66M974.66 289.52L974.66 298.83M974.66 298.83L963.46 308.13M963.46 308.13L952.78 308.08M952.78 308.08L952.78 298.77M789.92 307.53L778.72 316.83M778.72 316.83L768.04 316.77M768.04 316.77L768.04 307.47M822.49 307.64L811.29 316.94M811.29 316.94L800.61 316.88M800.61 316.88L800.61 307.58M855.06 307.75L843.87 317.05M843.87 317.05L833.18 316.99M833.18 316.99L833.18 307.69M887.63 307.86L876.44 317.16M876.44 317.16L865.75 317.1M865.75 317.1L865.75 307.8M920.21 307.97L909.01 317.27M909.01 317.27L898.32 317.21M898.32 317.21L898.32 307.91M952.78 308.08L941.58 317.38M941.58 317.38L930.89 317.32M930.89 317.32L930.89 308.02M768.04 316.77L756.84 326.08M756.84 326.08L746.15 326.02M800.61 316.88L789.41 326.19M789.41 326.19L778.72 326.13M778.72 326.13L778.72 316.83M833.18 316.99L821.98 326.3M821.98 326.3L811.29 326.24M811.29 326.24L811.29 316.94M865.75 317.1L854.55 326.41M854.55 326.41L843.87 326.35M843.87 326.35L843.87 317.05M898.32 317.21L887.12 326.52M887.12 326.52L876.44 326.46M876.44 326.46L876.44 317.16M930.89 317.32L919.69 326.63M919.69 326.63L909.01 326.57M909.01 326.57L909.01 317.27M963.46 308.13L963.46 317.43M963.46 317.43L952.27 326.74M952.27 326.74L941.58 326.68M941.58 326.68L941.58 317.38M778.72 326.13L767.53 335.44M767.53 335.44L756.84 335.38M756.84 335.38L756.84 326.08M811.29 326.24L800.1 335.55M800.1 335.55L789.41 335.49M789.41 335.49L789.41 326.19M843.87 326.35L832.67 335.66M832.67 335.66L821.98 335.6M821.98 335.6L821.98 326.3M876.44 326.46L865.24 335.77M865.24 335.77L854.55 335.71M854.55 335.71L854.55 326.41M909.01 326.57L897.81 335.88M897.81 335.88L887.12 335.82M887.12 335.82L887.12 326.52M941.58 326.68L930.38 335.99M930.38 335.99L919.69 335.93M919.69 335.93L919.69 326.63M756.84 335.38L745.64 344.69M745.64 344.69L734.96 344.63M789.41 335.49L778.21 344.79M778.21 344.79L767.53 344.74M767.53 344.74L767.53 335.44M821.98 335.6L810.78 344.9M810.78 344.9L800.1 344.85M800.1 344.85L800.1 335.55M854.55 335.71L843.36 345.01M843.36 345.01L832.67 344.96M832.67 344.96L832.67 335.66M887.12 335.82L875.93 345.12M875.93 345.12L865.24 345.07M865.24 345.07L865.24 335.77M919.69 335.93L908.5 345.23M908.5 345.23L897.81 345.18M897.81 345.18L897.81 335.88M952.27 326.74L952.27 336.04M952.27 336.04L941.07 345.34M941.07 345.34L930.38 345.29M930.38 345.29L930.38 335.99M767.53 344.74L756.33 354.04M756.33 354.04L745.64 353.99M745.64 353.99L745.64 344.68M800.1 344.85L788.9 354.15M788.9 354.15L778.21 354.1M778.21 354.1L778.21 344.79M832.67 344.96L821.47 354.26M821.47 354.26L810.78 354.21M810.78 354.21L810.78 344.9M865.24 345.07L854.04 354.37M854.04 354.37L843.36 354.32M843.36 354.32L843.36 345.01M897.81 345.18L886.61 354.48M886.61 354.48L875.93 354.43M875.93 354.43L875.93 345.12M930.38 345.29L919.18 354.59M919.18 354.59L908.5 354.54M908.5 354.54L908.5 345.23M745.64 353.99L734.45 363.29M734.45 363.29L723.76 363.24M778.21 354.1L767.02 363.4M767.02 363.4L756.33 363.35M756.33 363.35L756.33 354.04M810.78 354.21L799.59 363.51M799.59 363.51L788.9 363.46M788.9 363.46L788.9 354.15M843.36 354.32L832.16 363.62M832.16 363.62L821.47 363.57M821.47 363.57L821.47 354.26M865.24 345.07L875.93 345.13M875.93 345.13L875.93 354.43M875.93 354.43L864.73 363.73M864.73 363.73L854.04 363.68M854.04 363.68L854.04 354.37M908.5 354.54L897.3 363.84M897.3 363.84L886.61 363.79M886.61 363.79L886.61 354.48M941.07 345.35L941.07 354.65M941.07 354.65L929.87 363.95M929.87 363.95L919.18 363.9M919.18 363.9L919.18 354.59M756.33 363.35L745.13 372.65M745.13 372.65L734.45 372.6M734.45 372.6L734.45 363.29M788.9 363.46L777.7 372.76M777.7 372.76L767.02 372.71M767.02 372.71L767.02 363.4M821.47 363.57L810.27 372.87M810.27 372.87L799.59 372.82M799.59 372.82L799.59 363.51M854.04 363.68L842.85 372.98M842.85 372.98L832.16 372.93M832.16 372.93L832.16 363.62M886.61 363.79L875.42 373.09M875.42 373.09L864.73 373.04M864.73 373.04L864.73 363.73M919.18 363.9L907.99 373.2M907.99 373.2L897.3 373.15M897.3 373.15L897.3 363.84M734.45 372.6L723.25 381.9M723.25 381.9L712.56 381.84M767.02 372.71L755.82 382.01M755.82 382.01L745.13 381.95M745.13 381.95L745.13 372.65M799.59 372.82L788.39 382.12M788.39 382.12L777.7 382.06M777.7 382.06L777.7 372.76M832.16 372.93L820.96 382.23M820.96 382.23L810.27 382.17M810.27 382.17L810.27 372.87M864.73 373.04L853.53 382.34M853.53 382.34L842.85 382.28M842.85 382.28L842.85 372.98M897.3 373.15L886.1 382.45M886.1 382.45L875.42 382.39M875.42 382.39L875.42 373.09M929.87 363.95L929.87 373.26M929.87 373.26L918.67 382.56M918.67 382.56L907.99 382.5M907.99 382.5L907.99 373.2M745.13 381.95L733.94 391.26M733.94 391.26L723.25 391.2M723.25 391.2L723.25 381.9M777.7 382.06L766.51 391.37M766.51 391.37L755.82 391.31M755.82 391.31L755.82 382.01M810.27 382.17L799.08 391.48M799.08 391.48L788.39 391.42M788.39 391.42L788.39 382.12M842.85 382.28L831.65 391.59M831.65 391.59L820.96 391.53M820.96 391.53L820.96 382.23M875.42 382.39L864.22 391.7M864.22 391.7L853.53 391.64M853.53 391.64L853.53 382.34M907.99 382.5L896.79 391.81M896.79 391.81L886.1 391.75M886.1 391.75L886.1 382.45M723.25 391.2L712.05 400.51M712.05 400.51L701.36 400.45M755.82 391.31L744.62 400.62M744.62 400.62L733.94 400.56M733.94 400.56L733.94 391.26M788.39 391.42L777.19 400.73M777.19 400.73L766.51 400.67M766.51 400.67L766.51 391.37M820.96 391.53L809.76 400.84M809.76 400.84L799.08 400.78M799.08 400.78L799.08 391.48M853.53 391.64L842.34 400.95M842.34 400.95L831.65 400.89M831.65 400.89L831.65 391.59M886.1 391.75L874.91 401.06M874.91 401.06L864.22 401M864.22 401L864.22 391.7M918.67 382.56L918.67 391.86M918.67 391.86L907.48 401.17M907.48 401.17L896.79 401.11M896.79 401.11L896.79 391.81M733.94 400.56L722.74 409.86M722.74 409.86L712.05 409.81M712.05 409.81L712.05 400.51M766.51 400.67L755.31 409.97M755.31 409.97L744.62 409.92M744.62 409.92L744.62 400.62M799.08 400.78L787.88 410.08M787.88 410.08L777.19 410.03M777.19 410.03L777.19 400.73M831.65 400.89L820.45 410.19M820.45 410.19L809.76 410.14M809.76 410.14L809.76 400.84M864.22 401L853.02 410.3M853.02 410.3L842.34 410.25M842.34 410.25L842.34 400.95M896.79 401.11L885.59 410.41M885.59 410.41L874.91 410.36M874.91 410.36L874.91 401.06M712.05 409.81L700.86 419.11M700.86 419.11L690.17 419.06M744.62 409.92L733.43 419.22M733.43 419.22L722.74 419.17M722.74 419.17L722.74 409.86M777.19 410.03L766 419.33M766 419.33L755.31 419.28M755.31 419.28L755.31 409.97M809.76 410.14L798.57 419.44M798.57 419.44L787.88 419.39M787.88 419.39L787.88 410.08M842.34 410.25L831.14 419.55M831.14 419.55L820.45 419.5M820.45 419.5L820.45 410.19M874.91 410.36L863.71 419.66M863.71 419.66L853.02 419.61M853.02 419.61L853.02 410.3M907.48 401.17L907.48 410.47M907.48 410.47L896.28 419.77M896.28 419.77L885.59 419.72M885.59 419.72L885.59 410.41M722.74 419.17L711.54 428.47M711.54 428.47L700.85 428.42M700.85 428.42L700.85 419.11M755.31 419.28L744.11 428.58M744.11 428.58L733.43 428.53M733.43 428.53L733.43 419.22M787.88 419.39L776.68 428.69M776.68 428.69L766 428.64M766 428.64L766 419.33M820.45 419.5L809.25 428.8M809.25 428.8L798.57 428.75M798.57 428.75L798.57 419.44M853.02 419.61L841.83 428.91M841.83 428.91L831.14 428.86M831.14 428.86L831.14 419.55M885.59 419.72L874.4 429.02M874.4 429.02L863.71 428.97M863.71 428.97L863.71 419.66M700.86 428.42L689.66 437.72M689.66 437.72L678.97 437.66M733.43 428.53L722.23 437.83M722.23 437.83L711.54 437.77M711.54 437.77L711.54 428.47M766 428.64L754.8 437.94M754.8 437.94L744.11 437.88M744.11 437.88L744.11 428.58M798.57 428.75L787.37 438.05M787.37 438.05L776.68 438M776.68 438L776.68 428.69M831.14 428.86L819.94 438.16M819.94 438.16L809.25 438.11M809.25 438.11L809.25 428.8M863.71 428.97L852.51 438.27M852.51 438.27L841.83 438.21M841.83 438.21L841.83 428.91M896.28 419.77L896.28 429.08M896.28 429.08L885.08 438.38M885.08 438.38L874.4 438.32M874.4 438.32L874.4 429.02M711.54 437.78L700.35 447.08M700.35 447.08L689.66 447.02M689.66 447.02L689.66 437.72M744.11 437.88L732.92 447.19M732.92 447.19L722.23 447.13M722.23 447.13L722.23 437.83M776.68 438L765.49 447.3M765.49 447.3L754.8 447.24M754.8 447.24L754.8 437.94M809.25 438.11L798.06 447.41M798.06 447.41L787.37 447.35M787.37 447.35L787.37 438.05M841.83 438.21L830.63 447.52M830.63 447.52L819.94 447.46M819.94 447.46L819.94 438.16M874.4 438.32L863.2 447.63M863.2 447.63L852.51 447.57M852.51 447.57L852.51 438.27M689.66 447.02L678.46 456.33M678.46 456.33L667.77 456.27M722.23 447.13L711.03 456.44M711.03 456.44L700.35 456.38M700.35 456.38L700.35 447.08M754.8 447.24L743.6 456.55M743.6 456.55L732.92 456.49M732.92 456.49L732.92 447.19M787.37 447.35L776.17 456.66M776.17 456.66L765.49 456.6M765.49 456.6L765.49 447.3M819.94 447.46L808.75 456.77M808.75 456.77L798.06 456.71M798.06 456.71L798.06 447.41M852.51 447.57L841.32 456.88M841.32 456.88L830.63 456.82M830.63 456.82L830.63 447.52M885.08 438.38L885.08 447.68M885.08 447.68L873.89 456.99M873.89 456.99L863.2 456.93M863.2 456.93L863.2 447.63M700.35 456.38L689.15 465.69M689.15 465.69L678.46 465.63M678.46 465.63L678.46 456.33M732.92 456.49L721.72 465.8M721.72 465.8L711.03 465.74M711.03 465.74L711.03 456.44M765.49 456.6L754.29 465.91M754.29 465.91L743.6 465.85M743.6 465.85L743.6 456.55M798.06 456.71L786.86 466.02M786.86 466.02L776.17 465.96M776.17 465.96L776.17 456.66M830.63 456.82L819.43 466.13M819.43 466.13L808.75 466.07M808.75 466.07L808.75 456.77M863.2 456.93L852 466.24M852 466.24L841.32 466.18M841.32 466.18L841.32 456.88M678.46 465.63L667.26 474.93M667.26 474.93L656.58 474.88M711.03 465.74L699.84 475.04M699.84 475.04L689.15 474.99M689.15 474.99L689.15 465.69M743.6 465.85L732.41 475.15M732.41 475.15L721.72 475.1M721.72 475.1L721.72 465.8M776.17 465.96L764.98 475.26M764.98 475.26L754.29 475.21M754.29 475.21L754.29 465.91M808.75 466.07L797.55 475.37M797.55 475.37L786.86 475.32M786.86 475.32L786.86 466.02M841.32 466.18L830.12 475.48M830.12 475.48L819.43 475.43M819.43 475.43L819.43 466.13M873.89 456.99L873.89 466.29M873.89 466.29L862.69 475.59M862.69 475.59L852 475.54M852 475.54L852 466.24M689.15 474.99L677.95 484.29M677.95 484.29L667.26 484.24M667.26 484.24L667.26 474.93M721.72 475.1L710.52 484.4M710.52 484.4L699.84 484.35M699.84 484.35L699.84 475.04M754.29 475.21L743.09 484.51M743.09 484.51L732.41 484.46M732.41 484.46L732.41 475.15M786.86 475.32L775.66 484.62M775.66 484.62L764.98 484.57M764.98 484.57L764.98 475.26M819.43 475.43L808.24 484.73M808.24 484.73L797.55 484.68M797.55 484.68L797.55 475.37M852 475.54L840.81 484.84M840.81 484.84L830.12 484.79M830.12 484.79L830.12 475.48M667.26 484.24L656.07 493.54M656.07 493.54L645.38 493.49M699.84 484.35L688.64 493.65M688.64 493.65L677.95 493.6M677.95 493.6L677.95 484.29M732.41 484.46L721.21 493.76M721.21 493.76L710.52 493.71M710.52 493.71L710.52 484.4M764.98 484.57L753.78 493.87M753.78 493.87L743.09 493.82M743.09 493.82L743.09 484.51M797.55 484.68L786.35 493.98M786.35 493.98L775.66 493.93M775.66 493.93L775.66 484.62M830.12 484.79L818.92 494.09M818.92 494.09L808.24 494.04M808.24 494.04L808.24 484.73M862.69 475.59L862.69 484.9M862.69 484.9L851.49 494.2M851.49 494.2L840.81 494.15M840.81 494.15L840.81 484.84M677.95 493.6L666.75 502.9M666.75 502.9L656.07 502.84M656.07 502.84L656.07 493.54M710.52 493.71L699.33 503.01M699.33 503.01L688.64 502.95M688.64 502.95L688.64 493.65M743.09 493.82L731.9 503.12M731.9 503.12L721.21 503.06M721.21 503.06L721.21 493.76M775.66 493.93L764.47 503.23M764.47 503.23L753.78 503.17M753.78 503.17L753.78 493.87M808.24 494.04L797.04 503.34M797.04 503.34L786.35 503.28M786.35 503.28L786.35 493.98M840.81 494.15L829.61 503.45M829.61 503.45L818.92 503.39M818.92 503.39L818.92 494.09M656.07 502.84L644.87 512.15M644.87 512.15L634.18 512.09M688.64 502.95L677.44 512.26M677.44 512.26L666.75 512.2M666.75 512.2L666.75 502.9M721.21 503.06L710.01 512.37M710.01 512.37L699.32 512.31M699.32 512.31L699.32 503.01M753.78 503.17L742.58 512.48M742.58 512.48L731.9 512.42M731.9 512.42L731.9 503.12M786.35 503.28L775.15 512.59M775.15 512.59L764.47 512.53M764.47 512.53L764.47 503.23M818.92 503.39L807.72 512.7M807.72 512.7L797.04 512.64M797.04 512.64L797.04 503.34M851.49 494.2L851.49 503.5M851.49 503.5L840.3 512.81M840.3 512.81L829.61 512.75M829.61 512.75L829.61 503.45M666.75 512.2L655.56 521.51M655.56 521.51L644.87 521.45M644.87 521.45L644.87 512.15M699.33 512.31L688.13 521.62M688.13 521.62L677.44 521.56M677.44 521.56L677.44 512.26M731.9 512.42L720.7 521.73M720.7 521.73L710.01 521.67M710.01 521.67L710.01 512.37M764.47 512.53L753.27 521.84M753.27 521.84L742.58 521.78M742.58 521.78L742.58 512.48M797.04 512.64L785.84 521.95M785.84 521.95L775.15 521.89M775.15 521.89L775.15 512.59M829.61 512.75L818.41 522.06M818.41 522.06L807.73 522M807.73 522L807.73 512.7M644.87 521.45L633.67 530.75M633.67 530.75L622.99 530.7M677.44 521.56L666.24 530.86M666.24 530.86L655.56 530.81M655.56 530.81L655.56 521.51M710.01 521.67L698.82 530.97M698.82 530.97L688.13 530.92M688.13 530.92L688.13 521.62M742.58 521.78L731.39 531.08M731.39 531.08L720.7 531.03M720.7 531.03L720.7 521.73M775.15 521.89L763.96 531.19M763.96 531.19L753.27 531.14M753.27 531.14L753.27 521.84M807.73 522L796.53 531.3M796.53 531.3L785.84 531.25M785.84 531.25L785.84 521.95M840.3 512.81L840.3 522.11M840.3 522.11L829.1 531.41M829.1 531.41L818.41 531.36M818.41 531.36L818.41 522.06M655.56 530.81L644.36 540.11M644.36 540.11L633.67 540.06M633.67 540.06L633.67 530.75M688.13 530.92L676.93 540.22M676.93 540.22L666.24 540.17M666.24 540.17L666.24 530.87M720.7 531.03L709.5 540.33M709.5 540.33L698.81 540.28M698.81 540.28L698.81 530.98M753.27 531.14L742.07 540.44M742.07 540.44L731.39 540.39M731.39 540.39L731.39 531.09M785.84 531.25L774.64 540.55M774.64 540.55L763.96 540.5M763.96 540.5L763.96 531.2M818.41 531.36L807.21 540.66M807.21 540.66L796.53 540.61M796.53 540.61L796.53 531.31M633.67 540.06L622.48 549.36M622.48 549.36L611.79 549.31M666.24 540.17L655.05 549.47M655.05 549.47L644.36 549.42M644.36 549.42L644.36 540.11M698.81 540.28L687.62 549.58M687.62 549.58L676.93 549.53M676.93 549.53L676.93 540.22M731.39 540.39L720.19 549.69M720.19 549.69L709.5 549.64M709.5 549.64L709.5 540.33M763.96 540.5L752.76 549.8M752.76 549.8L742.07 549.75M742.07 549.75L742.07 540.44M796.53 540.61L785.33 549.91M785.33 549.91L774.64 549.86M774.64 549.86L774.64 540.55M829.1 531.41L829.1 540.72M829.1 540.72L817.9 550.02M817.9 550.02L807.22 549.97M807.22 549.97L807.22 540.66M644.36 549.42L633.16 558.72M633.16 558.72L622.48 558.67M622.48 558.67L622.48 549.36M676.93 549.53L665.73 558.83M665.73 558.83L655.05 558.78M655.05 558.78L655.05 549.47M709.5 549.64L698.31 558.94M698.31 558.94L687.62 558.89M687.62 558.89L687.62 549.58M742.07 549.75L730.88 559.05M730.88 559.05L720.19 559M720.19 559L720.19 549.69M774.64 549.86L763.45 559.16M763.45 559.16L752.76 559.11M752.76 559.11L752.76 549.8M807.22 549.97L796.02 559.27M796.02 559.27L785.33 559.22M785.33 559.22L785.33 549.91M622.48 558.67L611.28 567.97M611.28 567.97L600.59 567.91M655.05 558.78L643.85 568.08M643.85 568.08L633.16 568.02M633.16 568.02L633.16 558.72M687.62 558.89L676.42 568.19M676.42 568.19L665.73 568.13M665.73 568.13L665.73 558.83M720.19 559L708.99 568.3M708.99 568.3L698.31 568.24M698.31 568.24L698.31 558.94M752.76 559.11L741.56 568.41M741.56 568.41L730.88 568.35M730.88 568.35L730.88 559.05M785.33 559.22L774.13 568.52M774.13 568.52L763.45 568.46M763.45 568.46L763.45 559.16M817.9 550.02L817.9 559.33M817.9 559.33L806.71 568.63M806.71 568.63L796.02 568.57M796.02 568.57L796.02 559.27M633.16 568.02L621.97 577.33M621.97 577.33L611.28 577.27M611.28 577.27L611.28 567.97M665.73 568.13L654.54 577.44M654.54 577.44L643.85 577.38M643.85 577.38L643.85 568.08M698.31 568.24L687.11 577.55M687.11 577.55L676.42 577.49M676.42 577.49L676.42 568.19M730.88 568.35L719.68 577.66M719.68 577.66L708.99 577.6M708.99 577.6L708.99 568.3M763.45 568.46L752.25 577.77M752.25 577.77L741.56 577.71M741.56 577.71L741.56 568.41M796.02 568.57L784.82 577.88M784.82 577.88L774.13 577.82M774.13 577.82L774.13 568.52M611.28 577.27L600.08 586.58M600.08 586.58L589.4 586.52M643.85 577.38L632.65 586.69M632.65 586.69L621.97 586.63M621.97 586.63L621.97 577.33M676.42 577.49L665.22 586.8M665.22 586.8L654.54 586.74M654.54 586.74L654.54 577.44M708.99 577.6L697.8 586.91M697.8 586.91L687.11 586.85M687.11 586.85L687.11 577.55M741.56 577.71L730.37 587.02M730.37 587.02L719.68 586.96M719.68 586.96L719.68 577.66M774.13 577.82L762.94 587.13M762.94 587.13L752.25 587.07M752.25 587.07L752.25 577.77M806.71 568.63L806.71 577.93M806.71 577.93L795.51 587.24M795.51 587.24L784.82 587.18M784.82 587.18L784.82 577.88M621.97 586.63L610.77 595.93M610.77 595.93L600.08 595.88M600.08 595.88L600.08 586.58M654.54 586.74L643.34 596.04M643.34 596.04L632.65 595.99M632.65 595.99L632.65 586.69M687.11 586.85L675.91 596.15M675.91 596.15L665.22 596.1M665.22 596.1L665.22 586.8M719.68 586.96L708.48 596.26M708.48 596.26L697.8 596.21M697.8 596.21L697.8 586.91M752.25 587.07L741.05 596.37M741.05 596.37L730.37 596.32M730.37 596.32L730.37 587.02M784.82 587.18L773.62 596.48M773.62 596.48L762.94 596.43M762.94 596.43L762.94 587.13M600.08 595.88L588.88 605.18M588.88 605.18L578.2 605.13M632.65 595.99L621.46 605.29M621.46 605.29L610.77 605.24M610.77 605.24L610.77 595.93M665.22 596.1L654.03 605.4M654.03 605.4L643.34 605.35M643.34 605.35L643.34 596.04M697.79 596.21L686.6 605.51M686.6 605.51L675.91 605.46M675.91 605.46L675.91 596.15M730.37 596.32L719.17 605.62M719.17 605.62L708.48 605.57M708.48 605.57L708.48 596.26M762.94 596.43L751.74 605.73M751.74 605.73L741.05 605.68M741.05 605.68L741.05 596.37M795.51 587.24L795.51 596.54M795.51 596.54L784.31 605.84M784.31 605.84L773.62 605.79M773.62 605.79L773.62 596.48M610.77 605.24L599.57 614.54M599.57 614.54L588.88 614.49M588.88 614.49L588.88 605.18M643.34 605.35L632.14 614.65M632.14 614.65L621.46 614.6M621.46 614.6L621.46 605.29M675.91 605.46L664.71 614.76M664.71 614.76L654.03 614.71M654.03 614.71L654.03 605.4M708.48 605.57L697.29 614.87M697.29 614.87L686.6 614.82M686.6 614.82L686.6 605.51M741.05 605.68L729.86 614.98M729.86 614.98L719.17 614.93M719.17 614.93L719.17 605.62M773.62 605.79L762.43 615.09M762.43 615.09L751.74 615.04M751.74 615.04L751.74 605.73M588.89 614.49L577.69 623.79M577.69 623.79L567 623.73M621.46 614.6L610.26 623.9M610.26 623.9L599.57 623.84M599.57 623.84L599.57 614.54M654.03 614.71L642.83 624.01M642.83 624.01L632.14 623.95M632.14 623.95L632.14 614.65M686.6 614.82L675.4 624.12M675.4 624.12L664.71 624.06M664.71 624.06L664.71 614.76M719.17 614.93L707.97 624.23M707.97 624.23L697.28 624.17M697.28 624.17L697.28 614.87M751.74 615.04L740.54 624.34M740.54 624.34L729.86 624.28M729.86 624.28L729.86 614.98M784.31 605.84L784.31 615.15M784.31 615.15L773.11 624.45M773.11 624.45L762.43 624.39M762.43 624.39L762.43 615.09M599.57 623.84L588.38 633.15M588.38 633.15L577.69 633.09M577.69 633.09L577.69 623.79M632.14 623.95L620.95 633.26M620.95 633.26L610.26 633.2M610.26 633.2L610.26 623.9M664.71 624.06L653.52 633.37M653.52 633.37L642.83 633.31M642.83 633.31L642.83 624.01M697.29 624.17L686.09 633.48M686.09 633.48L675.4 633.42M675.4 633.42L675.4 624.12M729.86 624.28L718.66 633.59M718.66 633.59L707.97 633.53M707.97 633.53L707.97 624.23M762.43 624.39L751.23 633.7M751.23 633.7L740.54 633.64M740.54 633.64L740.54 624.34M577.69 633.09L566.49 642.4M566.49 642.4L555.8 642.34M610.26 633.2L599.06 642.51M599.06 642.51L588.38 642.45M588.38 642.45L588.38 633.15M642.83 633.31L631.63 642.62M631.63 642.62L620.95 642.56M620.95 642.56L620.95 633.26M675.4 633.42L664.2 642.73M664.2 642.73L653.52 642.67M653.52 642.67L653.52 633.37M707.97 633.53L696.78 642.84M696.78 642.84L686.09 642.78M686.09 642.78L686.09 633.48M740.54 633.64L729.35 642.95M729.35 642.95L718.66 642.89M718.66 642.89L718.66 633.59M773.11 624.45L773.11 633.75M773.11 633.75L761.92 643.06M761.92 643.06L751.23 643M751.23 643L751.23 633.7M588.38 642.45L577.18 651.76M577.18 651.76L566.49 651.7M566.49 651.7L566.49 642.4M620.95 642.56L609.75 651.87M609.75 651.87L599.06 651.81M599.06 651.81L599.06 642.51M653.52 642.67L642.32 651.98M642.32 651.98L631.63 651.92M631.63 651.92L631.63 642.62M686.09 642.78L674.89 652.09M674.89 652.09L664.2 652.03M664.2 652.03L664.2 642.73M718.66 642.89L707.46 652.2M707.46 652.2L696.77 652.14M696.77 652.14L696.77 642.84M751.23 643L740.03 652.31M740.03 652.31L729.35 652.25M729.35 652.25L729.35 642.95M566.49 651.7L555.29 661M555.29 661L544.61 660.95M599.06 651.81L587.87 661.11M587.87 661.11L577.18 661.06M577.18 661.06L577.18 651.76M631.63 651.92L620.44 661.22M620.44 661.22L609.75 661.17M609.75 661.17L609.75 651.87M664.2 652.03L653.01 661.33M653.01 661.33L642.32 661.28M642.32 661.28L642.32 651.98M696.77 652.14L685.58 661.44M685.58 661.44L674.89 661.39M674.89 661.39L674.89 652.09M729.35 652.25L718.15 661.55M718.15 661.55L707.46 661.5M707.46 661.5L707.46 652.2M761.92 643.06L761.92 652.36M761.92 652.36L750.72 661.66M750.72 661.66L740.03 661.61M740.03 661.61L740.03 652.31M577.18 661.06L565.98 670.36M565.98 670.36L555.29 670.31M555.29 670.31L555.29 661M609.75 661.17L598.55 670.47M598.55 670.47L587.87 670.42M587.87 670.42L587.87 661.11M642.32 661.28L631.12 670.58M631.12 670.58L620.44 670.53M620.44 670.53L620.44 661.22M674.89 661.39L663.69 670.69M663.69 670.69L653.01 670.64M653.01 670.64L653.01 661.33M707.46 661.5L696.27 670.8M696.27 670.8L685.58 670.75M685.58 670.75L685.58 661.44M740.03 661.61L728.84 670.91M728.84 670.91L718.15 670.86M718.15 670.86L718.15 661.55M555.29 670.31L544.1 679.61M544.1 679.61L533.41 679.56M587.87 670.42L576.67 679.72M576.67 679.72L565.98 679.67M565.98 679.67L565.98 670.36M620.44 670.53L609.24 679.83M609.24 679.83L598.55 679.78M598.55 679.78L598.55 670.47M653.01 670.64L641.81 679.94M641.81 679.94L631.12 679.89M631.12 679.89L631.12 670.58M685.58 670.75L674.38 680.05M674.38 680.05L663.69 680M663.69 680L663.69 670.69M718.15 670.86L706.95 680.16M706.95 680.16L696.26 680.11M696.26 680.11L696.26 670.8M750.72 661.66L750.72 670.97M750.72 670.97L739.52 680.27M739.52 680.27L728.84 680.22M728.84 680.22L728.84 670.91M565.98 679.67L554.78 688.97M554.78 688.97L544.1 688.91M544.1 688.91L544.1 679.61M598.55 679.78L587.36 689.08M587.36 689.08L576.67 689.02M576.67 689.02L576.67 679.72M631.12 679.89L619.93 689.19M619.93 689.19L609.24 689.13M609.24 689.13L609.24 679.83M663.69 680L652.5 689.3M652.5 689.3L641.81 689.24M641.81 689.24L641.81 679.94M696.26 680.11L685.07 689.41M685.07 689.41L674.38 689.35M674.38 689.35L674.38 680.05M728.84 680.22L717.64 689.52M717.64 689.52L706.95 689.46M706.95 689.46L706.95 680.16M544.1 688.91L532.9 698.22M532.9 698.22L522.21 698.16M576.67 689.02L565.47 698.33M565.47 698.33L554.78 698.27M554.78 698.27L554.78 688.97M609.24 689.13L598.04 698.44M598.04 698.44L587.36 698.38M587.36 698.38L587.36 689.08M641.81 689.24L630.61 698.55M630.61 698.55L619.93 698.49M619.93 698.49L619.93 689.19M674.38 689.35L663.18 698.66M663.18 698.66L652.5 698.6M652.5 698.6L652.5 689.3M706.95 689.46L695.75 698.77M695.75 698.77L685.07 698.71M685.07 698.71L685.07 689.41M739.52 680.27L739.52 689.57M739.52 689.57L728.33 698.88M728.33 698.88L717.64 698.82M717.64 698.82L717.64 689.52"/>
<radialGradient id="gl0" gradientUnits="userSpaceOnUse" cx="772" cy="202" r="55" gradientTransform="translate(772,202) scale(1,0.9091) translate(-772,-202)"><stop offset="0" stop-color="#ef9b83"/><stop offset="0.45" stop-color="#ef9b83" stop-opacity="0.92"/><stop offset="1" stop-color="#ef9b83" stop-opacity="0"/></radialGradient>
<radialGradient id="gl1" gradientUnits="userSpaceOnUse" cx="635" cy="398" r="98" gradientTransform="translate(635,398) scale(1,0.9388) translate(-635,-398)"><stop offset="0" stop-color="#ef9b83"/><stop offset="0.45" stop-color="#ef9b83" stop-opacity="0.92"/><stop offset="1" stop-color="#ef9b83" stop-opacity="0"/></radialGradient>
<radialGradient id="gl2" gradientUnits="userSpaceOnUse" cx="810" cy="396" r="92" gradientTransform="translate(810,396) scale(1,0.8478) translate(-810,-396)"><stop offset="0" stop-color="#aeb6e4"/><stop offset="0.45" stop-color="#aeb6e4" stop-opacity="0.92"/><stop offset="1" stop-color="#aeb6e4" stop-opacity="0"/></radialGradient>
<radialGradient id="gl3" gradientUnits="userSpaceOnUse" cx="492" cy="538" r="46" gradientTransform="translate(492,538) scale(1,1.2174) translate(-492,-538)"><stop offset="0" stop-color="#ef9b83"/><stop offset="0.45" stop-color="#ef9b83" stop-opacity="0.92"/><stop offset="1" stop-color="#ef9b83" stop-opacity="0"/></radialGradient>
<radialGradient id="gl4" gradientUnits="userSpaceOnUse" cx="628" cy="585" r="46" gradientTransform="translate(628,585) scale(1,1.1304) translate(-628,-585)"><stop offset="0" stop-color="#aeb6e4"/><stop offset="0.45" stop-color="#aeb6e4" stop-opacity="0.92"/><stop offset="1" stop-color="#aeb6e4" stop-opacity="0"/></radialGradient>
</defs>
<g fill="none" stroke-width="1.7" stroke-linecap="round">
<use href="#lr" stroke="#cc1d25"/>
<use href="#lb" stroke="#3852a8"/>
<use href="#lr" stroke="url(#gl0)"/>
<use href="#lr" stroke="url(#gl1)"/>
<use href="#lb" stroke="url(#gl2)"/>
<use href="#lr" stroke="url(#gl3)"/>
<use href="#lb" stroke="url(#gl4)"/>
</g>
<path d="M756.06,324.38 L816.75,228.37 L807.62,222.6 L746.94,318.62Z" fill="#000"/>
<path d="M822.6,209 L818.9,239.19 L812.18,225.48 L796.92,225.3Z" fill="#000"/>
<path d="M527.35,708.69 L526.8,551.89 L521.9,551.91 L522.45,708.71Z" fill="#000"/>
<path d="M524.3,538.4 L534.17,557.37 L524.35,551.9 L514.57,557.43Z" fill="#000"/>
<path d="M522.5,708.75 L680.4,709.03 L680.4,704.33 L522.5,704.05Z" fill="#000"/>
<path d="M694.6,706.7 L674.38,717.06 L680.4,706.68 L674.42,696.26Z" fill="#000"/>
<path d="M528.05,707.25 L592.27,601.81 L588.17,599.31 L523.95,704.75Z" fill="#000"/>
<path d="M597.5,588.6 L595.9,610.46 L590.22,600.56 L578.82,600.05Z" fill="#000"/>
<text x="737.89" y="241.50" style="font-family:'Liberation Serif','Times New Roman',serif;font-size:66px;font-weight:bold">q</text>
<g transform="translate(552.2,420.3) skewX(-17)"><text transform="scale(1.27,1)" x="0" y="0" style="font-family:'Liberation Serif','Times New Roman',serif;font-style:italic;font-size:72px">σ</text><text x="47.5" y="-24.5" style="font-family:'Liberation Serif','Times New Roman',serif;font-style:italic;font-size:48px">(L)</text></g>
<g transform="translate(741.0,421.3) skewX(-17)"><text transform="scale(1.27,1)" x="0" y="0" style="font-family:'Liberation Serif','Times New Roman',serif;font-style:italic;font-size:72px">σ</text><text x="47.5" y="-24" style="font-family:'Liberation Serif','Times New Roman',serif;font-style:italic;font-size:48px">(R)</text></g>
<text x="479.74" y="548.00" style="font-family:'Liberation Serif','Times New Roman',serif;font-size:58px;font-style:italic">y</text>
<text x="612.73" y="603.60" style="font-family:'Liberation Serif','Times New Roman',serif;font-size:56px;font-style:italic">z</text>
<text x="673.51" y="669.60" style="font-family:'Liberation Serif','Times New Roman',serif;font-size:58px;font-style:italic">x</text>
<g clip-path="url(#cpa)"><path d="M263,831.83 L267.06,831.8 L271.13,831.77 L275.19,831.74 L279.25,831.71 L283.31,831.67 L287.38,831.64 L291.44,831.61 L295.5,831.57 L299.56,831.54 L303.63,831.51 L307.69,831.47 L311.75,831.44 L315.81,831.4 L319.88,831.37 L323.94,831.33 L328,831.29 L332.07,831.26 L336.13,831.22 L340.19,831.18 L344.25,831.15 L348.32,831.11 L352.38,831.07 L356.44,831.03 L360.5,830.99 L364.57,830.95 L368.63,830.91 L372.69,830.87 L376.75,830.83 L380.82,830.79 L384.88,830.74 L388.94,830.7 L393.01,830.66 L397.07,830.62 L401.13,830.57 L405.19,830.53 L409.26,830.48 L413.32,830.44 L417.38,830.39 L421.44,830.34 L425.51,830.3 L429.57,830.25 L433.63,830.2 L437.69,830.15 L441.76,830.1 L445.82,830.05 L449.88,830 L453.95,829.95 L458.01,829.9 L462.07,829.85 L466.13,829.79 L470.2,829.74 L474.26,829.69 L478.32,829.63 L482.38,829.58 L486.45,829.52 L490.51,829.46 L494.57,829.41 L498.63,829.35 L502.7,829.29 L506.76,829.23 L510.82,829.17 L514.89,829.11 L518.95,829.04 L523.01,828.98 L527.07,828.92 L531.14,828.85 L535.2,828.79 L539.26,828.72 L543.32,828.65 L547.39,828.58 L551.45,828.51 L555.51,828.44 L559.57,828.37 L563.64,828.3 L567.7,828.23 L571.76,828.15 L575.83,828.08 L579.89,828 L583.95,827.92 L588.01,827.85 L592.08,827.77 L596.14,827.69 L600.2,827.6 L604.26,827.52 L608.33,827.44 L612.39,827.35 L616.45,827.26 L620.51,827.17 L624.58,827.09 L628.64,826.99 L632.7,826.9 L636.77,826.81 L640.83,826.71 L644.89,826.62 L648.95,826.52 L653.02,826.42 L657.08,826.32 L661.14,826.21 L665.2,826.11 L669.27,826 L673.33,825.89 L677.39,825.78 L681.45,825.67 L685.52,825.55 L689.58,825.44 L693.64,825.32 L697.7,825.2 L701.77,825.08 L705.83,824.95 L709.89,824.83 L713.96,824.7 L718.02,824.57 L722.08,824.43 L726.14,824.3 L730.21,824.16 L734.27,824.02 L738.33,823.87 L742.39,823.72 L746.46,823.57 L750.52,823.42 L754.58,823.26 L758.64,823.11 L762.71,822.94 L766.77,822.78 L770.83,822.61 L774.9,822.44 L778.96,822.26 L783.02,822.08 L787.08,821.9 L791.15,821.71 L795.21,821.52 L799.27,821.32 L803.33,821.12 L807.4,820.92 L811.46,820.71 L815.52,820.49 L819.58,820.27 L823.65,820.05 L827.71,819.82 L831.77,819.58 L835.84,819.34 L839.9,819.09 L843.96,818.84 L848.02,818.58 L852.09,818.31 L856.15,818.03 L860.21,817.75 L864.27,817.46 L868.34,817.17 L872.4,816.86 L876.46,816.55 L880.52,816.22 L884.59,815.89 L888.65,815.55 L892.71,815.2 L896.78,814.84 L900.84,814.46 L904.9,814.08 L908.96,813.68 L913.03,813.27 L917.09,812.85 L921.15,812.41 L925.21,811.96 L929.28,811.49 L933.34,811 L937.4,810.5 L941.46,809.98 L945.53,809.44 L949.59,808.88 L953.65,808.3 L957.72,807.7 L961.78,807.07 L965.84,806.42 L969.9,805.74 L973.97,805.03 L978.03,804.3 L982.09,803.52 L986.15,802.72 L990.22,801.87 L994.28,800.99 L998.34,800.06 L1002.4,799.09 L1006.47,798.07 L1010.53,796.99 L1014.59,795.86 L1018.66,794.66 L1022.72,793.39 L1026.78,792.05 L1030.84,790.63 L1034.91,789.12 L1038.97,787.51 L1043.03,785.79 L1047.09,783.96 L1051.16,781.99 L1055.22,779.88 L1059.28,777.6 L1063.34,775.14 L1067.41,772.47 L1071.47,769.57 L1071.74,769.37 L1072.02,769.16 L1072.29,768.95 L1072.56,768.75 L1072.83,768.54 L1073.11,768.33 L1073.38,768.11 L1073.65,767.9 L1073.93,767.69 L1074.2,767.47 L1074.47,767.26 L1074.74,767.04 L1075.02,766.82 L1075.29,766.6 L1075.56,766.37 L1075.84,766.15 L1076.11,765.93 L1076.38,765.7 L1076.65,765.47 L1076.93,765.24 L1077.2,765.01 L1077.47,764.78 L1077.75,764.55 L1078.02,764.31 L1078.29,764.07 L1078.57,763.84 L1078.84,763.6 L1079.11,763.36 L1079.38,763.11 L1079.66,762.87 L1079.93,762.62 L1080.2,762.37 L1080.48,762.13 L1080.75,761.87 L1081.02,761.62 L1081.29,761.37 L1081.57,761.11 L1081.84,760.85 L1082.11,760.6 L1082.39,760.33 L1082.66,760.07 L1082.93,759.81 L1083.2,759.54 L1083.48,759.27 L1083.75,759 L1084.02,758.73 L1084.3,758.46 L1084.57,758.18 L1084.84,757.9 L1085.11,757.62 L1085.39,757.34 L1085.66,757.06 L1085.93,756.77 L1086.21,756.49 L1086.48,756.2 L1086.75,755.91 L1087.02,755.61 L1087.3,755.32 L1087.57,755.02 L1087.84,754.72 L1088.12,754.42 L1088.39,754.11 L1088.66,753.8 L1088.93,753.5 L1089.21,753.18 L1089.48,752.87 L1089.75,752.56 L1090.03,752.24 L1090.3,751.92 L1090.57,751.59 L1090.84,751.27 L1091.12,750.94 L1091.39,750.61 L1091.66,750.28 L1091.94,749.94 L1092.21,749.6 L1092.48,749.26 L1092.76,748.92 L1093.03,748.57 L1093.3,748.23 L1093.57,747.87 L1093.85,747.52 L1094.12,747.16 L1094.39,746.8 L1094.67,746.44 L1094.94,746.08 L1095.21,745.71 L1095.48,745.34 L1095.76,744.96 L1096.03,744.58 L1096.3,744.2 L1096.58,743.82 L1096.85,743.43 L1097.12,743.04 L1097.39,742.65 L1097.67,742.25 L1097.94,741.85 L1098.21,741.45 L1098.49,741.04 L1098.76,740.63 L1099.03,740.22 L1099.3,739.8 L1099.58,739.38 L1099.85,738.96 L1100.12,738.53 L1100.4,738.1 L1100.67,737.66 L1100.94,737.22 L1101.21,736.78 L1101.49,736.33 L1101.76,735.88 L1102.03,735.43 L1102.31,734.97 L1102.58,734.5 L1102.85,734.04 L1103.12,733.56 L1103.4,733.09 L1103.67,732.61 L1103.94,732.12 L1104.22,731.63 L1104.49,731.14 L1104.76,730.64 L1105.04,730.14 L1105.31,729.63 L1105.58,729.12 L1105.85,728.6 L1106.13,728.07 L1106.4,727.55 L1106.67,727.01 L1106.95,726.48 L1107.22,725.93 L1107.49,725.38 L1107.76,724.83 L1108.04,724.27 L1108.31,723.7 L1108.58,723.13 L1108.86,722.55 L1109.13,721.97 L1109.4,721.38 L1109.67,720.79 L1109.95,720.19 L1110.22,719.58 L1110.49,718.96 L1110.77,718.34 L1111.04,717.72 L1111.31,717.08 L1111.58,716.44 L1111.86,715.8 L1112.13,715.14 L1112.4,714.48 L1112.68,713.81 L1112.95,713.14 L1113.22,712.46 L1113.49,711.76 L1113.77,711.07 L1114.04,710.36 L1114.31,709.65 L1114.59,708.92 L1114.86,708.19 L1115.13,707.45 L1115.4,706.71 L1115.68,705.95 L1115.95,705.19 L1116.22,704.41 L1116.5,703.63 L1116.77,702.84 L1117.04,702.03 L1117.31,701.22 L1117.59,700.4 L1117.86,699.57 L1118.13,698.73 L1118.41,697.87 L1118.68,697.01 L1118.95,696.14 L1119.23,695.25 L1119.5,694.36 L1119.77,693.45 L1120.04,692.53 L1120.32,691.6 L1120.59,690.66 L1120.86,689.7 L1121.14,688.73 L1121.41,687.75 L1121.68,686.76 L1121.95,685.75 L1122.23,684.73 L1122.5,683.69 L1122.77,682.64 L1123.05,681.58 L1123.32,680.5 L1123.59,679.41 L1123.86,678.3 L1124.14,677.17 L1124.41,676.03 L1124.68,674.87 L1124.96,673.7 L1125.23,672.51 L1125.5,671.3 L1125.77,670.07 L1126.05,668.82 L1126.32,667.56 L1126.59,666.27 L1126.87,664.97 L1127.14,663.64 L1127.41,662.3 L1127.68,660.93 L1127.96,659.54 L1128.23,658.13 L1128.5,656.7 L1128.78,655.24 L1129.05,653.76 L1129.32,652.25 L1129.59,650.72 L1129.87,649.17 L1130.14,647.58 L1130.41,645.97 L1130.69,644.33 L1130.96,642.67 L1131.23,640.97 L1131.5,639.24 L1131.78,637.49 L1132.05,635.7 L1132.32,633.88 L1132.6,632.02 L1132.87,630.13 L1133.14,628.2 L1133.42,626.24 L1133.69,624.24 L1133.96,622.2 L1134.23,620.12 L1134.51,618 L1134.78,615.84 L1135.05,613.63 L1135.33,611.38 L1135.6,609.08 L1135.87,606.74 L1136.14,604.34 L1136.42,601.89 L1136.69,599.4 L1136.96,596.84 L1137.24,594.23 L1137.51,591.56 L1137.78,588.83 L1138.05,586.04 L1138.33,583.19 L1138.6,580.27 L1138.87,577.28 L1139.15,574.21 L1139.42,571.08 L1139.69,567.86 L1139.96,564.57 L1140.24,561.19 L1140.51,557.73 L1140.78,554.18 L1141.06,550.53 L1141.33,546.79 L1141.6,542.95 L1141.87,539 L1142.15,534.94 L1142.42,530.77 L1142.69,526.48 L1142.97,522.07 L1143.24,517.52 L1143.51,512.84 L1143.78,508.02 L1144.06,503.05 L1144.33,497.93 L1144.6,492.64 L1144.88,487.18 L1145.15,481.54 L1145.42,475.72 L1145.7,469.69 L1145.97,463.46 L1146.24,457.01 L1146.51,450.33 L1146.79,443.4 L1147.06,436.21 L1147.33,428.75 L1147.61,421.01 L1147.88,412.95 L1148.15,404.58 L1148.42,395.85 L1148.7,386.76 L1148.97,377.28 L1149.24,367.38 L1149.52,357.04 L1149.79,346.22 L1150.06,334.89 L1150.33,323.01 L1150.61,310.55 L1150.88,297.44 L1151.15,283.66 L1151.43,269.13 L1151.7,253.8 L1151.97,237.6 L1152.24,220.46 L1152.52,202.27 L1152.79,182.96 L1153.06,162.4" stroke="#1f4c9e" stroke-width="7.2" fill="none"/></g>
<rect x="263" y="99.2" width="898.3" height="743.5" fill="none" stroke="#000" stroke-width="4.6"/>
<path d="M352.83 842.7v-9.3M352.83 99.2v9.3M442.66 842.7v-9.3M442.66 99.2v9.3M532.49 842.7v-9.3M532.49 99.2v9.3M622.32 842.7v-9.3M622.32 99.2v9.3M712.15 842.7v-9.3M712.15 99.2v9.3M801.98 842.7v-9.3M801.98 99.2v9.3M891.81 842.7v-9.3M891.81 99.2v9.3M981.64 842.7v-9.3M981.64 99.2v9.3M1071.47 842.7v-9.3M1071.47 99.2v9.3M263 736.49h9.3M1161.3 736.49h-9.3M263 630.27h9.3M1161.3 630.27h-9.3M263 524.06h9.3M1161.3 524.06h-9.3M263 417.84h9.3M1161.3 417.84h-9.3M263 311.63h9.3M1161.3 311.63h-9.3M263 205.41h9.3M1161.3 205.41h-9.3" stroke="#000" stroke-width="4.6" fill="none"/>
<text transform="translate(252.12,894.80) scale(1,1.035)" style="font-family:'Liberation Sans',Arial,sans-serif;font-size:48px">0</text>
<text transform="translate(407.62,894.80) scale(1,1.035)" style="font-family:'Liberation Sans',Arial,sans-serif;font-size:48px">0.2</text>
<text transform="translate(587.73,894.80) scale(1,1.035)" style="font-family:'Liberation Sans',Arial,sans-serif;font-size:48px">0.4</text>
<text transform="translate(767.73,894.80) scale(1,1.035)" style="font-family:'Liberation Sans',Arial,sans-serif;font-size:48px">0.6</text>
<text transform="translate(948.12,894.80) scale(1,1.035)" style="font-family:'Liberation Sans',Arial,sans-serif;font-size:48px">0.8</text>
<text transform="translate(1145.58,894.80) scale(1,1.035)" clip-path="url(#c1_0)" style="font-family:'Liberation Sans',Arial,sans-serif;font-size:48px">1</text>
<text transform="translate(168.63,113.90) scale(1,1.035)" clip-path="url(#c1_1)" style="font-family:'Liberation Sans',Arial,sans-serif;font-size:48px">1</text><text transform="translate(193.88,113.90) scale(1,1.035)" style="font-family:'Liberation Sans',Arial,sans-serif;font-size:48px">40</text>
<text transform="translate(168.63,217.30) scale(1,1.035)" clip-path="url(#c1_2)" style="font-family:'Liberation Sans',Arial,sans-serif;font-size:48px">1</text><text transform="translate(193.88,217.30) scale(1,1.035)" style="font-family:'Liberation Sans',Arial,sans-serif;font-size:48px">20</text>
<text transform="translate(168.63,325.90) scale(1,1.035)" clip-path="url(#c1_3)" style="font-family:'Liberation Sans',Arial,sans-serif;font-size:48px">1</text><text transform="translate(193.88,325.90) scale(1,1.035)" style="font-family:'Liberation Sans',Arial,sans-serif;font-size:48px">00</text>
<text transform="translate(195.68,433.60) scale(1,1.035)" style="font-family:'Liberation Sans',Arial,sans-serif;font-size:48px">80</text>
<text transform="translate(195.68,537.80) scale(1,1.035)" style="font-family:'Liberation Sans',Arial,sans-serif;font-size:48px">60</text>
<text transform="translate(195.18,646.10) scale(1,1.035)" style="font-family:'Liberation Sans',Arial,sans-serif;font-size:48px">40</text>
<text transform="translate(195.68,749.60) scale(1,1.035)" style="font-family:'Liberation Sans',Arial,sans-serif;font-size:48px">20</text>
<text transform="translate(226.18,857.90) scale(1,1.035)" style="font-family:'Liberation Sans',Arial,sans-serif;font-size:48px">0</text>
<text transform="translate(79,801.7) rotate(-90)" x="-5.6" y="0" textLength="653" lengthAdjust="spacing" style="font-family:'Liberation Sans',Arial,sans-serif;font-size:50px">Normalized effective index</text>
<text transform="translate(147.80,0.00) rotate(-90)" style="font-family:'Liberation Serif','Times New Roman',serif;font-size:56px"><tspan x="-580.09" y="0.00" style="font-style:italic">N</tspan><tspan x="-525.76" y="0.00">(</tspan><tspan x="-504.30" y="0.00" style="font-style:italic">n</tspan><tspan x="-481.30" y="0.00">/</tspan><tspan x="-462.30" y="0.00" style="font-style:italic">n</tspan><tspan x="-433.97" y="11.00" style="font-size:38px">2D</tspan><tspan x="-389.80" y="0.00">)</tspan></text>
<text transform="translate(559.07,958.53) scale(1.4167,0.8299)" style="font-family:'Liberation Serif','Times New Roman',serif;font-size:50px">-</text>
<text style="font-family:'Liberation Serif','Times New Roman',serif;font-size:59.5px"><tspan x="583.00" y="964.10" style="font-style:italic">K</tspan><tspan x="636.89" y="964.10">(</tspan><tspan x="656.03" y="964.10" style="font-style:italic">σ</tspan><tspan x="684.93" y="944.10" style="font-size:33.5px">(R)</tspan><tspan x="734.18" y="960.60" style="font-size:52px">″</tspan><tspan x="753.20" y="964.10">/</tspan><tspan x="769.03" y="964.10" style="font-style:italic">σ</tspan><tspan x="799.33" y="944.10" style="font-size:33.5px">(L)</tspan><tspan x="838.38" y="960.60" style="font-size:52px">″</tspan><tspan x="863.48" y="964.10">)</tspan></text>
<text transform="translate(8.08,50.84) scale(0.8627,0.9552)" style="font-family:'Liberation Sans',Arial,sans-serif;font-size:60px;font-weight:bold">a</text>
<text x="1251.04" y="51.50" style="font-family:'Liberation Sans',Arial,sans-serif;font-size:60px;font-weight:bold">b</text>
<path d="M1590.17 841.2v-10M1590.17 96v10M1739.93 841.2v-10M1739.93 96v10M1889.7 841.2v-10M1889.7 96v10M2039.47 841.2v-10M2039.47 96v10M2189.23 841.2v-10M2189.23 96v10M1440.4 729.04h6.5M2339 729.04h-6.5M1440.4 663.42h6.5M2339 663.42h-6.5M1440.4 616.87h6.5M2339 616.87h-6.5M1440.4 580.76h6.5M2339 580.76h-6.5M1440.4 551.26h6.5M2339 551.26h-6.5M1440.4 526.32h6.5M2339 526.32h-6.5M1440.4 504.71h6.5M2339 504.71h-6.5M1440.4 485.65h6.5M2339 485.65h-6.5M1440.4 356.44h6.5M2339 356.44h-6.5M1440.4 290.82h6.5M2339 290.82h-6.5M1440.4 244.27h6.5M2339 244.27h-6.5M1440.4 208.16h6.5M2339 208.16h-6.5M1440.4 178.66h6.5M2339 178.66h-6.5M1440.4 153.72h6.5M2339 153.72h-6.5M1440.4 132.11h6.5M2339 132.11h-6.5M1440.4 113.05h6.5M2339 113.05h-6.5M1440.4 468.6h10.3M2339 468.6h-10.3" stroke="#000" stroke-width="4.6" fill="none"/>
<g clip-path="url(#cpb)">
<path d="M1442.52,60.69 L1442.57,64.54 L1442.62,68.4 L1442.67,72.25 L1442.72,76.11 L1442.77,79.96 L1442.82,83.8 L1442.87,87.65 L1442.93,91.49 L1442.98,95.34 L1443.04,99.18 L1443.1,103.01 L1443.16,106.85 L1443.22,110.68 L1443.28,114.52 L1443.35,118.35 L1443.41,122.17 L1443.48,126 L1443.55,129.82 L1443.62,133.64 L1443.69,137.46 L1443.76,141.28 L1443.83,145.1 L1443.91,148.91 L1443.99,152.72 L1444.07,156.53 L1444.15,160.34 L1444.23,164.14 L1444.32,167.94 L1444.4,171.75 L1444.49,175.54 L1444.58,179.34 L1444.68,183.14 L1444.77,186.93 L1444.87,190.72 L1444.97,194.51 L1445.07,198.3 L1445.17,202.08 L1445.28,205.86 L1445.38,209.64 L1445.49,213.42 L1445.61,217.2 L1445.72,220.97 L1445.84,224.75 L1445.96,228.52 L1446.08,232.28 L1446.21,236.05 L1446.34,239.82 L1446.47,243.58 L1446.6,247.34 L1446.74,251.1 L1446.88,254.85 L1447.03,258.61 L1447.17,262.36 L1447.32,266.11 L1447.48,269.86 L1447.63,273.6 L1447.79,277.35 L1447.96,281.09 L1448.12,284.83 L1448.3,288.56 L1448.47,292.3 L1448.65,296.03 L1448.83,299.76 L1449.02,303.49 L1449.21,307.22 L1449.4,310.95 L1449.6,314.67 L1449.81,318.39 L1450.02,322.11 L1450.23,325.83 L1450.45,329.54 L1450.67,333.26 L1450.9,336.97 L1451.13,340.68 L1451.37,344.38 L1451.61,348.09 L1451.86,351.79 L1452.11,355.49 L1452.37,359.19 L1452.64,362.89 L1452.91,366.58 L1453.18,370.28 L1453.47,373.97 L1453.76,377.65 L1454.05,381.34 L1454.35,385.03 L1454.66,388.71 L1454.98,392.39 L1455.3,396.07 L1455.63,399.74 L1455.97,403.42 L1456.31,407.09 L1456.67,410.76 L1457.03,414.43 L1457.4,418.09 L1457.77,421.76 L1458.16,425.42 L1458.55,429.08 L1458.95,432.74 L1459.36,436.39 L1459.78,440.05 L1460.21,443.7 L1460.65,447.35 L1461.1,451 L1461.56,454.64 L1462.03,458.29 L1462.5,461.93 L1462.99,465.57 L1463.49,469.21 L1464.01,472.84 L1464.53,476.47 L1465.06,480.11 L1465.61,483.73 L1466.17,487.36 L1466.74,490.99 L1467.32,494.61 L1467.92,498.23 L1468.53,501.85 L1469.15,505.47 L1469.79,509.08 L1470.44,512.7 L1471.1,516.31 L1471.78,519.92 L1472.48,523.52 L1473.19,527.13 L1473.92,530.73 L1474.66,534.33 L1475.42,537.93 L1476.19,541.53 L1476.98,545.12 L1477.79,548.71 L1478.62,552.3 L1479.47,555.89 L1480.33,559.48 L1481.22,563.06 L1482.12,566.64 L1483.05,570.22 L1483.99,573.8 L1484.96,577.38 L1485.94,580.95 L1486.95,584.53 L1487.98,588.1 L1489.04,591.66 L1490.12,595.23 L1491.22,598.79 L1492.34,602.36 L1493.49,605.91 L1494.67,609.47 L1495.87,613.03 L1497.1,616.58 L1498.35,620.13 L1499.64,623.68 L1500.95,627.23 L1502.29,630.78 L1503.66,634.32 L1505.06,637.86 L1506.49,641.4 L1507.96,644.94 L1509.45,648.47 L1510.98,652.01 L1512.55,655.54 L1514.14,659.07 L1515.78,662.59 L1517.45,666.12 L1519.15,669.64 L1520.9,673.16 L1522.68,676.68 L1524.5,680.2 L1526.37,683.71 L1528.27,687.23 L1530.22,690.74 L1532.2,694.25 L1534.24,697.75 L1536.32,701.26 L1538.44,704.76 L1540.61,708.26 L1542.83,711.76 L1545.1,715.25 L1547.42,718.75 L1549.79,722.24 L1552.21,725.73 L1554.69,729.22 L1557.22,732.71 L1559.81,736.19 L1562.45,739.67 L1565.15,743.15 L1567.92,746.63 L1570.74,750.11 L1573.63,753.58 L1576.58,757.05 L1579.59,760.52 L1582.68,763.99 L1585.83,767.46 L1589.05,770.92 L1592.34,774.38 L1595.71,777.84 L1599.15,781.3 L1602.66,784.75 L1606.26,788.21 L1609.93,791.66 L1613.68,795.11 L1617.52,798.55 L1621.44,802 L1625.45,805.44 L1629.55,808.88 L1633.74,812.32 L1638.02,815.76 L1642.4,819.2 L1646.87,822.63 L1651.45,826.06 L1656.12,829.49 L1660.9,832.92 L1665.78,836.34 L1670.77,839.76 L1675.88,843.18 L1681.09,846.6 L1686.42,850.02 L1691.87,853.43 L1697.44,856.85 L1703.13,860.26 L1708.95,863.67 L1714.9,867.07" stroke="#000000" stroke-width="7.2" fill="none"/>
<path d="M1443.35,60.3 L1443.41,63.36 L1443.48,66.42 L1443.55,69.48 L1443.62,72.54 L1443.69,75.6 L1443.76,78.67 L1443.83,81.74 L1443.91,84.81 L1443.99,87.89 L1444.07,90.97 L1444.15,94.05 L1444.23,97.14 L1444.32,100.22 L1444.4,103.31 L1444.49,106.4 L1444.58,109.5 L1444.68,112.6 L1444.77,115.7 L1444.87,118.8 L1444.97,121.91 L1445.07,125.02 L1445.17,128.13 L1445.28,131.24 L1445.38,134.36 L1445.49,137.48 L1445.61,140.6 L1445.72,143.73 L1445.84,146.86 L1445.96,149.99 L1446.08,153.12 L1446.21,156.26 L1446.34,159.39 L1446.47,162.54 L1446.6,165.68 L1446.74,168.83 L1446.88,171.98 L1447.03,175.13 L1447.17,178.29 L1447.32,181.44 L1447.48,184.61 L1447.63,187.77 L1447.79,190.93 L1447.96,194.1 L1448.12,197.28 L1448.3,200.45 L1448.47,203.63 L1448.65,206.81 L1448.83,209.99 L1449.02,213.18 L1449.21,216.36 L1449.4,219.55 L1449.6,222.75 L1449.81,225.94 L1450.02,229.14 L1450.23,232.35 L1450.45,235.55 L1450.67,238.76 L1450.9,241.97 L1451.13,245.18 L1451.37,248.4 L1451.61,251.61 L1451.86,254.84 L1452.11,258.06 L1452.37,261.29 L1452.64,264.52 L1452.91,267.75 L1453.18,270.98 L1453.47,274.22 L1453.76,277.46 L1454.05,280.7 L1454.35,283.95 L1454.66,287.2 L1454.98,290.45 L1455.3,293.7 L1455.63,296.96 L1455.97,300.22 L1456.31,303.48 L1456.67,306.74 L1457.03,310.01 L1457.4,313.28 L1457.77,316.55 L1458.16,319.83 L1458.55,323.11 L1458.95,326.39 L1459.36,329.67 L1459.78,332.96 L1460.21,336.25 L1460.65,339.54 L1461.1,342.84 L1461.56,346.13 L1462.03,349.43 L1462.5,352.74 L1462.99,356.04 L1463.49,359.35 L1464.01,362.66 L1464.53,365.98 L1465.06,369.29 L1465.61,372.61 L1466.17,375.94 L1466.74,379.26 L1467.32,382.59 L1467.92,385.92 L1468.53,389.25 L1469.15,392.59 L1469.79,395.93 L1470.44,399.27 L1471.1,402.61 L1471.78,405.96 L1472.48,409.31 L1473.19,412.66 L1473.92,416.02 L1474.66,419.37 L1475.42,422.73 L1476.19,426.1 L1476.98,429.46 L1477.79,432.83 L1478.62,436.2 L1479.47,439.58 L1480.33,442.95 L1481.22,446.33 L1482.12,449.72 L1483.05,453.1 L1483.99,456.49 L1484.96,459.88 L1485.94,463.27 L1486.95,466.67 L1487.98,470.07 L1489.04,473.47 L1490.12,476.87 L1491.22,480.28 L1492.34,483.69 L1493.49,487.1 L1494.67,490.52 L1495.87,493.94 L1497.1,497.36 L1498.35,500.78 L1499.64,504.21 L1500.95,507.64 L1502.29,511.07 L1503.66,514.5 L1505.06,517.94 L1506.49,521.38 L1507.96,524.82 L1509.45,528.27 L1510.98,531.71 L1512.55,535.17 L1514.14,538.62 L1515.78,542.08 L1517.45,545.53 L1519.15,549 L1520.9,552.46 L1522.68,555.93 L1524.5,559.4 L1526.37,562.87 L1528.27,566.35 L1530.22,569.82 L1532.2,573.3 L1534.24,576.79 L1536.32,580.27 L1538.44,583.76 L1540.61,587.26 L1542.83,590.75 L1545.1,594.25 L1547.42,597.75 L1549.79,601.25 L1552.21,604.76 L1554.69,608.26 L1557.22,611.77 L1559.81,615.29 L1562.45,618.8 L1565.15,622.32 L1567.92,625.85 L1570.74,629.37 L1573.63,632.9 L1576.58,636.43 L1579.59,639.96 L1582.68,643.5 L1585.83,647.03 L1589.05,650.58 L1592.34,654.12 L1595.71,657.67 L1599.15,661.21 L1602.66,664.77 L1606.26,668.32 L1609.93,671.88 L1613.68,675.44 L1617.52,679 L1621.44,682.57 L1625.45,686.14 L1629.55,689.71 L1633.74,693.28 L1638.02,696.86 L1642.4,700.44 L1646.87,704.02 L1651.45,707.6 L1656.12,711.19 L1660.9,714.78 L1665.78,718.37 L1670.77,721.97 L1675.88,725.57 L1681.09,729.17 L1686.42,732.77 L1691.87,736.38 L1697.44,739.99 L1703.13,743.6 L1708.95,747.22 L1714.9,750.83 L1720.98,754.46 L1727.19,758.08 L1733.54,761.7 L1740.04,765.33 L1746.67,768.96 L1753.46,772.6 L1760.39,776.23 L1767.48,779.87 L1774.72,783.52 L1782.12,787.16 L1789.69,790.81 L1797.43,794.46 L1805.33,798.11 L1813.42,801.77 L1821.68,805.43 L1830.12,809.09 L1838.75,812.75 L1847.58,816.42 L1856.59,820.09 L1865.81,823.76 L1875.23,827.44 L1884.86,831.11 L1894.71,834.79 L1904.77,838.48 L1915.05,842.16 L1925.57,845.85 L1936.31,849.54 L1947.29,853.24 L1958.52,856.94 L1970,860.64 L1981.73,864.34 L1993.71,868.04" stroke="#128634" stroke-width="7.2" fill="none"/>
<path d="M1445.61,61.01 L1445.72,64.43 L1445.84,67.85 L1445.96,71.27 L1446.08,74.69 L1446.21,78.11 L1446.34,81.54 L1446.47,84.96 L1446.6,88.38 L1446.74,91.81 L1446.88,95.23 L1447.03,98.66 L1447.17,102.08 L1447.32,105.51 L1447.48,108.94 L1447.63,112.36 L1447.79,115.79 L1447.96,119.22 L1448.12,122.65 L1448.3,126.08 L1448.47,129.51 L1448.65,132.94 L1448.83,136.37 L1449.02,139.8 L1449.21,143.23 L1449.4,146.67 L1449.6,150.1 L1449.81,153.53 L1450.02,156.97 L1450.23,160.4 L1450.45,163.84 L1450.67,167.27 L1450.9,170.71 L1451.13,174.15 L1451.37,177.58 L1451.61,181.02 L1451.86,184.46 L1452.11,187.9 L1452.37,191.34 L1452.64,194.78 L1452.91,198.22 L1453.18,201.66 L1453.47,205.1 L1453.76,208.55 L1454.05,211.99 L1454.35,215.43 L1454.66,218.88 L1454.98,222.32 L1455.3,225.76 L1455.63,229.21 L1455.97,232.66 L1456.31,236.1 L1456.67,239.55 L1457.03,243 L1457.4,246.45 L1457.77,249.89 L1458.16,253.34 L1458.55,256.79 L1458.95,260.24 L1459.36,263.7 L1459.78,267.15 L1460.21,270.6 L1460.65,274.05 L1461.1,277.5 L1461.56,280.96 L1462.03,284.41 L1462.5,287.87 L1462.99,291.32 L1463.49,294.78 L1464.01,298.23 L1464.53,301.69 L1465.06,305.15 L1465.61,308.61 L1466.17,312.06 L1466.74,315.52 L1467.32,318.98 L1467.92,322.44 L1468.53,325.9 L1469.15,329.36 L1469.79,332.83 L1470.44,336.29 L1471.1,339.75 L1471.78,343.21 L1472.48,346.68 L1473.19,350.14 L1473.92,353.61 L1474.66,357.07 L1475.42,360.54 L1476.19,364.01 L1476.98,367.47 L1477.79,370.94 L1478.62,374.41 L1479.47,377.88 L1480.33,381.35 L1481.22,384.82 L1482.12,388.29 L1483.05,391.76 L1483.99,395.23 L1484.96,398.7 L1485.94,402.17 L1486.95,405.64 L1487.98,409.12 L1489.04,412.59 L1490.12,416.07 L1491.22,419.54 L1492.34,423.02 L1493.49,426.49 L1494.67,429.97 L1495.87,433.45 L1497.1,436.92 L1498.35,440.4 L1499.64,443.88 L1500.95,447.36 L1502.29,450.84 L1503.66,454.32 L1505.06,457.8 L1506.49,461.28 L1507.96,464.77 L1509.45,468.25 L1510.98,471.73 L1512.55,475.22 L1514.14,478.7 L1515.78,482.18 L1517.45,485.67 L1519.15,489.16 L1520.9,492.64 L1522.68,496.13 L1524.5,499.62 L1526.37,503.1 L1528.27,506.59 L1530.22,510.08 L1532.2,513.57 L1534.24,517.06 L1536.32,520.55 L1538.44,524.04 L1540.61,527.53 L1542.83,531.03 L1545.1,534.52 L1547.42,538.01 L1549.79,541.51 L1552.21,545 L1554.69,548.5 L1557.22,551.99 L1559.81,555.49 L1562.45,558.98 L1565.15,562.48 L1567.92,565.98 L1570.74,569.48 L1573.63,572.98 L1576.58,576.47 L1579.59,579.97 L1582.68,583.47 L1585.83,586.98 L1589.05,590.48 L1592.34,593.98 L1595.71,597.48 L1599.15,600.98 L1602.66,604.49 L1606.26,607.99 L1609.93,611.5 L1613.68,615 L1617.52,618.51 L1621.44,622.01 L1625.45,625.52 L1629.55,629.03 L1633.74,632.53 L1638.02,636.04 L1642.4,639.55 L1646.87,643.06 L1651.45,646.57 L1656.12,650.08 L1660.9,653.59 L1665.78,657.1 L1670.77,660.62 L1675.88,664.13 L1681.09,667.64 L1686.42,671.16 L1691.87,674.67 L1697.44,678.18 L1703.13,681.7 L1708.95,685.22 L1714.9,688.73 L1720.98,692.25 L1727.19,695.77 L1733.54,699.28 L1740.04,702.8 L1746.67,706.32 L1753.46,709.84 L1760.39,713.36 L1767.48,716.88 L1774.72,720.4 L1782.12,723.93 L1789.69,727.45 L1797.43,730.97 L1805.33,734.49 L1813.42,738.02 L1821.68,741.54 L1830.12,745.07 L1838.75,748.59 L1847.58,752.12 L1856.59,755.64 L1865.81,759.17 L1875.23,762.7 L1884.86,766.23 L1894.71,769.76 L1904.77,773.29 L1915.05,776.82 L1925.57,780.35 L1936.31,783.88 L1947.29,787.41 L1958.52,790.94 L1970,794.47 L1981.73,798.01 L1993.71,801.54 L2005.97,805.07 L2018.49,808.61 L2031.3,812.14 L2044.38,815.68 L2057.76,819.21 L2071.43,822.75 L2085.41,826.29 L2099.69,829.83 L2114.3,833.36 L2129.22,836.9 L2144.48,840.44 L2160.07,843.98 L2176.01,847.52 L2192.3,851.06 L2208.95,854.61 L2225.97,858.15 L2243.37,861.69 L2261.16,865.23 L2279.33,868.78" stroke="#ef6f1f" stroke-width="7.2" fill="none"/>
<path d="M1447.03,62.25 L1447.17,65.62 L1447.32,68.99 L1447.48,72.35 L1447.63,75.72 L1447.79,79.09 L1447.96,82.46 L1448.12,85.83 L1448.3,89.2 L1448.47,92.57 L1448.65,95.95 L1448.83,99.32 L1449.02,102.69 L1449.21,106.07 L1449.4,109.45 L1449.6,112.82 L1449.81,116.2 L1450.02,119.58 L1450.23,122.96 L1450.45,126.34 L1450.67,129.72 L1450.9,133.11 L1451.13,136.49 L1451.37,139.87 L1451.61,143.26 L1451.86,146.64 L1452.11,150.03 L1452.37,153.42 L1452.64,156.81 L1452.91,160.2 L1453.18,163.59 L1453.47,166.98 L1453.76,170.37 L1454.05,173.76 L1454.35,177.16 L1454.66,180.55 L1454.98,183.95 L1455.3,187.34 L1455.63,190.74 L1455.97,194.14 L1456.31,197.54 L1456.67,200.94 L1457.03,204.34 L1457.4,207.74 L1457.77,211.14 L1458.16,214.54 L1458.55,217.95 L1458.95,221.35 L1459.36,224.76 L1459.78,228.17 L1460.21,231.57 L1460.65,234.98 L1461.1,238.39 L1461.56,241.8 L1462.03,245.21 L1462.5,248.62 L1462.99,252.04 L1463.49,255.45 L1464.01,258.86 L1464.53,262.28 L1465.06,265.7 L1465.61,269.11 L1466.17,272.53 L1466.74,275.95 L1467.32,279.37 L1467.92,282.79 L1468.53,286.21 L1469.15,289.63 L1469.79,293.05 L1470.44,296.48 L1471.1,299.9 L1471.78,303.33 L1472.48,306.76 L1473.19,310.18 L1473.92,313.61 L1474.66,317.04 L1475.42,320.47 L1476.19,323.9 L1476.98,327.33 L1477.79,330.76 L1478.62,334.2 L1479.47,337.63 L1480.33,341.07 L1481.22,344.5 L1482.12,347.94 L1483.05,351.38 L1483.99,354.82 L1484.96,358.26 L1485.94,361.7 L1486.95,365.14 L1487.98,368.58 L1489.04,372.02 L1490.12,375.46 L1491.22,378.91 L1492.34,382.35 L1493.49,385.8 L1494.67,389.25 L1495.87,392.7 L1497.1,396.15 L1498.35,399.59 L1499.64,403.05 L1500.95,406.5 L1502.29,409.95 L1503.66,413.4 L1505.06,416.86 L1506.49,420.31 L1507.96,423.77 L1509.45,427.22 L1510.98,430.68 L1512.55,434.14 L1514.14,437.6 L1515.78,441.06 L1517.45,444.52 L1519.15,447.98 L1520.9,451.44 L1522.68,454.91 L1524.5,458.37 L1526.37,461.84 L1528.27,465.3 L1530.22,468.77 L1532.2,472.24 L1534.24,475.71 L1536.32,479.18 L1538.44,482.65 L1540.61,486.12 L1542.83,489.59 L1545.1,493.06 L1547.42,496.54 L1549.79,500.01 L1552.21,503.49 L1554.69,506.96 L1557.22,510.44 L1559.81,513.92 L1562.45,517.4 L1565.15,520.88 L1567.92,524.36 L1570.74,527.84 L1573.63,531.32 L1576.58,534.8 L1579.59,538.29 L1582.68,541.77 L1585.83,545.26 L1589.05,548.75 L1592.34,552.23 L1595.71,555.72 L1599.15,559.21 L1602.66,562.7 L1606.26,566.19 L1609.93,569.68 L1613.68,573.18 L1617.52,576.67 L1621.44,580.17 L1625.45,583.66 L1629.55,587.16 L1633.74,590.65 L1638.02,594.15 L1642.4,597.65 L1646.87,601.15 L1651.45,604.65 L1656.12,608.15 L1660.9,611.65 L1665.78,615.16 L1670.77,618.66 L1675.88,622.17 L1681.09,625.67 L1686.42,629.18 L1691.87,632.69 L1697.44,636.19 L1703.13,639.7 L1708.95,643.21 L1714.9,646.72 L1720.98,650.24 L1727.19,653.75 L1733.54,657.26 L1740.04,660.78 L1746.67,664.29 L1753.46,667.81 L1760.39,671.32 L1767.48,674.84 L1774.72,678.36 L1782.12,681.88 L1789.69,685.4 L1797.43,688.92 L1805.33,692.44 L1813.42,695.97 L1821.68,699.49 L1830.12,703.02 L1838.75,706.54 L1847.58,710.07 L1856.59,713.59 L1865.81,717.12 L1875.23,720.65 L1884.86,724.18 L1894.71,727.71 L1904.77,731.24 L1915.05,734.78 L1925.57,738.31 L1936.31,741.84 L1947.29,745.38 L1958.52,748.91 L1970,752.45 L1981.73,755.99 L1993.71,759.53 L2005.97,763.07 L2018.49,766.61 L2031.3,770.15 L2044.38,773.69 L2057.76,777.23 L2071.43,780.78 L2085.41,784.32 L2099.69,787.87 L2114.3,791.41 L2129.22,794.96 L2144.48,798.51 L2160.07,802.06 L2176.01,805.61 L2192.3,809.16 L2208.95,812.71 L2225.97,816.26 L2243.37,819.81 L2261.16,823.37 L2279.33,826.92 L2297.91,830.48 L2316.91,834.03 L2336.32,837.59 L2356.16,841.15 L2376.44,844.71" stroke="#e31e24" stroke-width="7.2" fill="none"/>
</g>
<rect x="1440.4" y="96" width="898.6" height="745.2" fill="none" stroke="#000" stroke-width="4.6"/>
<text transform="translate(1434.53,891.00) scale(1,1.035)" style="font-family:'Liberation Sans',Arial,sans-serif;font-size:48px">0</text>
<text transform="translate(1691.53,891.00) scale(1,1.035)" style="font-family:'Liberation Sans',Arial,sans-serif;font-size:48px">0.04</text>
<text transform="translate(1993.12,891.00) scale(1,1.035)" style="font-family:'Liberation Sans',Arial,sans-serif;font-size:48px">0.08</text>
<text transform="translate(2284.53,891.00) scale(1,1.035)" style="font-family:'Liberation Sans',Arial,sans-serif;font-size:48px">0.</text><text transform="translate(2326.00,891.00) scale(1,1.035)" clip-path="url(#c1_4)" style="font-family:'Liberation Sans',Arial,sans-serif;font-size:48px">1</text><text transform="translate(2351.25,891.00) scale(1,1.035)" style="font-family:'Liberation Sans',Arial,sans-serif;font-size:48px">2</text>
<text transform="translate(1345.63,113.30) scale(1,1.035)" clip-path="url(#c1_5)" style="font-family:'Liberation Sans',Arial,sans-serif;font-size:48px">1</text><text transform="translate(1370.88,113.30) scale(1,1.035)" style="font-family:'Liberation Sans',Arial,sans-serif;font-size:48px">00</text>
<text transform="translate(1374.42,485.00) scale(1,1.035)" clip-path="url(#c1_6)" style="font-family:'Liberation Sans',Arial,sans-serif;font-size:48px">1</text><text transform="translate(1399.68,485.00) scale(1,1.035)" style="font-family:'Liberation Sans',Arial,sans-serif;font-size:48px">0</text>
<text transform="translate(1398.89,852.30) scale(1,1.035)" clip-path="url(#c1_7)" style="font-family:'Liberation Sans',Arial,sans-serif;font-size:48px">1</text>
<text transform="translate(1333,473) rotate(-90)" text-anchor="middle" style="font-family:'Liberation Serif',Times New Roman,serif;font-size:60px"><tspan font-style="italic">N</tspan>′/(2<tspan font-style="italic">π</tspan><tspan font-style="italic">N</tspan>″)</text>
<text transform="translate(1846.59,956.18) scale(1.4629,1.0173)" style="font-family:'Liberation Serif','Times New Roman',serif;font-size:50px">-</text>
<text style="font-family:'Liberation Serif','Times New Roman',serif;font-size:59.5px"><tspan x="1870.90" y="960.80" style="font-style:italic">K</tspan><tspan x="1914.98" y="960.80">″</tspan></text>
<path d="M2082.3 590.3H2146.9" stroke="#e31e24" stroke-width="7" />
<text transform="translate(2160.69,604.76) scale(1.0856,0.8031)" style="font-family:'Liberation Serif','Times New Roman',serif;font-size:50px">-</text>
<text transform="translate(2226.66,603.00) scale(0.9799,0.6960)" style="font-family:'Liberation Serif','Times New Roman',serif;font-size:50px">=</text>
<text style="font-family:'Liberation Serif','Times New Roman',serif;font-size:44px"><tspan x="2178.62" y="606.70" style="font-style:italic">K</tspan><tspan x="2211.04" y="612.20" style="font-size:52px">′</tspan><tspan x="2263.32" y="606.70">0.2</tspan></text>
<path d="M2082.3 643.2H2146.9" stroke="#ef6f1f" stroke-width="7" />
<text transform="translate(2160.69,656.06) scale(1.0856,0.8031)" style="font-family:'Liberation Serif','Times New Roman',serif;font-size:50px">-</text>
<text transform="translate(2226.66,654.30) scale(0.9799,0.6960)" style="font-family:'Liberation Serif','Times New Roman',serif;font-size:50px">=</text>
<text style="font-family:'Liberation Serif','Times New Roman',serif;font-size:44px"><tspan x="2178.62" y="658.00" style="font-style:italic">K</tspan><tspan x="2211.04" y="663.50" style="font-size:52px">′</tspan><tspan x="2263.32" y="658.00">0.4</tspan></text>
<path d="M2082.3 693.3H2146.9" stroke="#128634" stroke-width="7" />
<text transform="translate(2160.69,707.76) scale(1.0856,0.8031)" style="font-family:'Liberation Serif','Times New Roman',serif;font-size:50px">-</text>
<text transform="translate(2226.66,706.00) scale(0.9799,0.6960)" style="font-family:'Liberation Serif','Times New Roman',serif;font-size:50px">=</text>
<text style="font-family:'Liberation Serif','Times New Roman',serif;font-size:44px"><tspan x="2178.62" y="709.70" style="font-style:italic">K</tspan><tspan x="2211.04" y="715.20" style="font-size:52px">′</tspan><tspan x="2263.32" y="709.70">0.6</tspan></text>
<path d="M2082.3 747.2H2146.9" stroke="#000000" stroke-width="7" />
<text transform="translate(2160.69,759.66) scale(1.0856,0.8031)" style="font-family:'Liberation Serif','Times New Roman',serif;font-size:50px">-</text>
<text transform="translate(2226.66,757.90) scale(0.9799,0.6960)" style="font-family:'Liberation Serif','Times New Roman',serif;font-size:50px">=</text>
<text style="font-family:'Liberation Serif','Times New Roman',serif;font-size:44px"><tspan x="2178.62" y="761.60" style="font-style:italic">K</tspan><tspan x="2211.04" y="767.10" style="font-size:52px">′</tspan><tspan x="2263.32" y="761.60">0.8</tspan></text>
<rect x="1750.7" y="142" width="525.2" height="328.5" fill="#fff" stroke="none"/>
<g clip-path="url(#cpi)">
<path d="M1750.7,442.65 L1753.87,442.48 L1757.04,442.3 L1760.22,442.12 L1763.39,441.94 L1766.56,441.76 L1769.73,441.58 L1772.91,441.39 L1776.08,441.2 L1779.25,441.01 L1782.42,440.81 L1785.6,440.62 L1788.77,440.42 L1791.94,440.22 L1795.11,440.01 L1798.29,439.8 L1801.46,439.59 L1804.63,439.38 L1807.8,439.17 L1810.97,438.95 L1814.15,438.73 L1817.32,438.5 L1820.49,438.28 L1823.66,438.05 L1826.84,437.81 L1830.01,437.58 L1833.18,437.34 L1836.35,437.09 L1839.53,436.85 L1842.7,436.6 L1845.87,436.34 L1849.04,436.08 L1852.22,435.82 L1855.39,435.56 L1858.56,435.29 L1861.73,435.01 L1864.9,434.74 L1868.08,434.45 L1871.25,434.17 L1874.42,433.88 L1877.59,433.58 L1880.77,433.28 L1883.94,432.98 L1887.11,432.67 L1890.28,432.35 L1893.46,432.03 L1896.63,431.71 L1899.8,431.37 L1902.97,431.04 L1906.15,430.7 L1909.32,430.35 L1912.49,429.99 L1915.66,429.63 L1918.83,429.27 L1922.01,428.9 L1925.18,428.52 L1928.35,428.13 L1931.52,427.74 L1934.7,427.33 L1937.87,426.93 L1941.04,426.51 L1944.21,426.09 L1947.39,425.65 L1950.56,425.21 L1953.73,424.77 L1956.9,424.31 L1960.08,423.84 L1963.25,423.36 L1966.42,422.88 L1969.59,422.38 L1972.76,421.88 L1975.94,421.36 L1979.11,420.83 L1982.28,420.29 L1985.45,419.74 L1988.63,419.18 L1991.8,418.6 L1994.97,418.01 L1998.14,417.41 L2001.32,416.79 L2004.49,416.16 L2007.66,415.52 L2010.83,414.86 L2014,414.18 L2017.18,413.49 L2020.35,412.78 L2023.52,412.05 L2026.69,411.3 L2029.87,410.53 L2033.04,409.75 L2036.21,408.94 L2039.38,408.11 L2042.56,407.26 L2045.73,406.39 L2048.9,405.49 L2052.07,404.56 L2055.25,403.61 L2058.42,402.63 L2061.59,401.63 L2064.76,400.59 L2067.93,399.52 L2071.11,398.41 L2074.28,397.28 L2077.45,396.1 L2080.62,394.89 L2083.8,393.64 L2086.97,392.34 L2090.14,391 L2093.31,389.62 L2096.49,388.18 L2099.66,386.7 L2102.83,385.15 L2106,383.55 L2109.18,381.89 L2112.35,380.17 L2115.52,378.38 L2118.69,376.51 L2121.86,374.57 L2125.04,372.54 L2128.21,370.43 L2131.38,368.23 L2134.55,365.92 L2137.73,363.51 L2140.9,360.99 L2144.07,358.34 L2147.24,355.56 L2150.42,352.64 L2153.59,349.57 L2156.76,346.34 L2159.93,342.92 L2163.11,339.32 L2166.28,335.5 L2169.45,331.46 L2172.62,327.16 L2175.79,322.59 L2178.97,317.72 L2182.14,312.52 L2185.31,306.96 L2188.48,300.99 L2191.66,294.56 L2194.83,287.63 L2198,280.13 L2201.17,271.99 L2204.35,263.13 L2207.52,253.44 L2210.69,242.79 L2213.86,231.06 L2217.04,218.05 L2220.21,203.55 L2223.38,187.29 L2223.51,186.57 L2223.64,185.85 L2223.77,185.12 L2223.91,184.39 L2224.04,183.66 L2224.17,182.93 L2224.3,182.19 L2224.43,181.44 L2224.56,180.7 L2224.7,179.95 L2224.83,179.19 L2224.96,178.43 L2225.09,177.67 L2225.22,176.9 L2225.35,176.13 L2225.49,175.36 L2225.62,174.58 L2225.75,173.79 L2225.88,173.01 L2226.01,172.22 L2226.14,171.42 L2226.27,170.62 L2226.41,169.82 L2226.54,169.01 L2226.67,168.2 L2226.8,167.38 L2226.93,166.56 L2227.06,165.73 L2227.2,164.9 L2227.33,164.07 L2227.46,163.23 L2227.59,162.38 L2227.72,161.53 L2227.85,160.68 L2227.98,159.82 L2228.12,158.96 L2228.25,158.09 L2228.38,157.22 L2228.51,156.34 L2228.64,155.46 L2228.77,154.57 L2228.91,153.68 L2229.04,152.78 L2229.17,151.88 L2229.3,150.97 L2229.43,150.06 L2229.56,149.14 L2229.7,148.22 L2229.83,147.29 L2229.96,146.35 L2230.09,145.42 L2230.22,144.47 L2230.35,143.52 L2230.48,142.56 L2230.62,141.6 L2230.75,140.64 L2230.88,139.66 L2231.01,138.69 L2231.14,137.7 L2231.27,136.71 L2231.41,135.72 L2231.54,134.71 L2231.67,133.71 L2231.8,132.69 L2231.93,131.67 L2232.06,130.65 L2232.19,129.61 L2232.33,128.57 L2232.46,127.53 L2232.59,126.48 L2232.72,125.42 L2232.85,124.36 L2232.98,123.29 L2233.12,122.21 L2233.25,121.12 L2233.38,120.03 L2233.51,118.93 L2233.64,117.83 L2233.77,116.72 L2233.91,115.6 L2234.04,114.47 L2234.17,113.34 L2234.3,112.2 L2234.43,111.05 L2234.56,109.9 L2234.69,108.74 L2234.83,107.57 L2234.96,106.39 L2235.09,105.21 L2235.22,104.01 L2235.35,102.81 L2235.48,101.6 L2235.62,100.39 L2235.75,99.16 L2235.88,97.93 L2236.01,96.69 L2236.14,95.44 L2236.27,94.19 L2236.4,92.92 L2236.54,91.65 L2236.67,90.36 L2236.8,89.07 L2236.93,87.77 L2237.06,86.46 L2237.19,85.15 L2237.33,83.82 L2237.46,82.48 L2237.59,81.14 L2237.72,79.78 L2237.85,78.42 L2237.98,77.05 L2238.12,75.66 L2238.25,74.27 L2238.38,72.87 L2238.51,71.46 L2238.64,70.03 L2238.77,68.6 L2238.9,67.16 L2239.04,65.7" stroke="#1f4c9e" stroke-width="6.5" fill="none" stroke-linejoin="round"/>
<path d="M1750.7,442.75 L1753.87,442.58 L1757.04,442.41 L1760.22,442.23 L1763.39,442.05 L1766.56,441.87 L1769.73,441.69 L1772.91,441.5 L1776.08,441.32 L1779.25,441.13 L1782.42,440.93 L1785.6,440.74 L1788.77,440.54 L1791.94,440.34 L1795.11,440.14 L1798.29,439.94 L1801.46,439.73 L1804.63,439.52 L1807.8,439.31 L1810.97,439.09 L1814.15,438.88 L1817.32,438.65 L1820.49,438.43 L1823.66,438.2 L1826.84,437.97 L1830.01,437.74 L1833.18,437.5 L1836.35,437.26 L1839.53,437.02 L1842.7,436.77 L1845.87,436.52 L1849.04,436.27 L1852.22,436.01 L1855.39,435.75 L1858.56,435.49 L1861.73,435.22 L1864.9,434.94 L1868.08,434.67 L1871.25,434.39 L1874.42,434.1 L1877.59,433.81 L1880.77,433.52 L1883.94,433.22 L1887.11,432.91 L1890.28,432.6 L1893.46,432.29 L1896.63,431.97 L1899.8,431.65 L1902.97,431.32 L1906.15,430.98 L1909.32,430.64 L1912.49,430.3 L1915.66,429.95 L1918.83,429.59 L1922.01,429.22 L1925.18,428.85 L1928.35,428.47 L1931.52,428.09 L1934.7,427.7 L1937.87,427.3 L1941.04,426.9 L1944.21,426.48 L1947.39,426.06 L1950.56,425.64 L1953.73,425.2 L1956.9,424.75 L1960.08,424.3 L1963.25,423.84 L1966.42,423.37 L1969.59,422.89 L1972.76,422.4 L1975.94,421.9 L1979.11,421.38 L1982.28,420.86 L1985.45,420.33 L1988.63,419.79 L1991.8,419.23 L1994.97,418.66 L1998.14,418.08 L2001.32,417.49 L2004.49,416.89 L2007.66,416.27 L2010.83,415.63 L2014,414.98 L2017.18,414.32 L2020.35,413.64 L2023.52,412.95 L2026.69,412.23 L2029.87,411.5 L2033.04,410.76 L2036.21,409.99 L2039.38,409.2 L2042.56,408.4 L2045.73,407.57 L2048.9,406.72 L2052.07,405.85 L2055.25,404.95 L2058.42,404.03 L2061.59,403.09 L2064.76,402.12 L2067.93,401.12 L2071.11,400.09 L2074.28,399.03 L2077.45,397.94 L2080.62,396.82 L2083.8,395.66 L2086.97,394.47 L2090.14,393.24 L2093.31,391.97 L2096.49,390.66 L2099.66,389.31 L2102.83,387.91 L2106,386.46 L2109.18,384.97 L2112.35,383.42 L2115.52,381.82 L2118.69,380.17 L2121.86,378.45 L2125.04,376.67 L2128.21,374.82 L2131.38,372.9 L2134.55,370.91 L2137.73,368.84 L2140.9,366.69 L2144.07,364.45 L2147.24,362.12 L2150.42,359.69 L2153.59,357.16 L2156.76,354.53 L2159.93,351.78 L2163.11,348.9 L2166.28,345.9 L2169.45,342.77 L2172.62,339.49 L2175.79,336.06 L2178.97,332.48 L2182.14,328.73 L2185.31,324.8 L2188.48,320.69 L2191.66,316.4 L2194.83,311.9 L2198,307.21 L2201.17,302.31 L2204.35,297.21 L2207.52,291.91 L2210.69,286.42 L2213.86,280.76 L2217.04,274.97 L2220.21,269.09 L2223.38,263.18 L2223.51,262.94 L2223.64,262.69 L2223.77,262.45 L2223.91,262.21 L2224.04,261.96 L2224.17,261.72 L2224.3,261.48 L2224.43,261.24 L2224.56,260.99 L2224.7,260.75 L2224.83,260.51 L2224.96,260.27 L2225.09,260.02 L2225.22,259.78 L2225.35,259.54 L2225.49,259.3 L2225.62,259.06 L2225.75,258.82 L2225.88,258.58 L2226.01,258.34 L2226.14,258.1 L2226.27,257.86 L2226.41,257.62 L2226.54,257.38 L2226.67,257.15 L2226.8,256.91 L2226.93,256.67 L2227.06,256.43 L2227.2,256.2 L2227.33,255.96 L2227.46,255.73 L2227.59,255.49 L2227.72,255.26 L2227.85,255.02 L2227.98,254.79 L2228.12,254.56 L2228.25,254.32 L2228.38,254.09 L2228.51,253.86 L2228.64,253.63 L2228.77,253.4 L2228.91,253.17 L2229.04,252.94 L2229.17,252.71 L2229.3,252.48 L2229.43,252.25 L2229.56,252.03 L2229.7,251.8 L2229.83,251.58 L2229.96,251.35 L2230.09,251.13 L2230.22,250.9 L2230.35,250.68 L2230.48,250.46 L2230.62,250.24 L2230.75,250.02 L2230.88,249.8 L2231.01,249.58 L2231.14,249.36 L2231.27,249.15 L2231.41,248.93 L2231.54,248.71 L2231.67,248.5 L2231.8,248.29 L2231.93,248.08 L2232.06,247.86 L2232.19,247.65 L2232.33,247.44 L2232.46,247.24 L2232.59,247.03 L2232.72,246.82 L2232.85,246.62 L2232.98,246.41 L2233.12,246.21 L2233.25,246.01 L2233.38,245.81 L2233.51,245.61 L2233.64,245.41 L2233.77,245.22 L2233.91,245.02 L2234.04,244.83 L2234.17,244.64 L2234.3,244.44 L2234.43,244.25 L2234.56,244.07 L2234.69,243.88 L2234.83,243.69 L2234.96,243.51 L2235.09,243.33 L2235.22,243.14 L2235.35,242.97 L2235.48,242.79 L2235.62,242.61 L2235.75,242.44 L2235.88,242.26 L2236.01,242.09 L2236.14,241.92 L2236.27,241.75 L2236.4,241.59 L2236.54,241.42 L2236.67,241.26 L2236.8,241.1 L2236.93,240.94 L2237.06,240.78 L2237.19,240.63 L2237.33,240.48 L2237.46,240.32 L2237.59,240.17 L2237.72,240.03 L2237.85,239.88 L2237.98,239.74 L2238.12,239.6 L2238.25,239.46 L2238.38,239.32 L2238.51,239.19 L2238.64,239.06 L2238.77,238.93 L2238.9,238.8 L2239.04,238.68 L2239.17,238.56 L2239.3,238.44 L2239.43,238.32 L2239.56,238.21 L2239.69,238.09 L2239.83,237.98 L2239.96,237.88 L2240.09,237.77 L2240.22,237.67 L2240.35,237.57 L2240.48,237.48 L2240.61,237.38 L2240.75,237.29 L2240.88,237.21 L2241.01,237.12 L2241.14,237.04 L2241.27,236.96 L2241.4,236.89 L2241.54,236.82 L2241.67,236.75 L2241.8,236.68 L2241.93,236.62 L2242.06,236.56 L2242.19,236.51 L2242.33,236.46 L2242.46,236.41 L2242.59,236.36 L2242.72,236.32 L2242.85,236.28 L2242.98,236.25 L2243.11,236.22 L2243.25,236.19 L2243.38,236.17 L2243.51,236.15 L2243.64,236.13 L2243.77,236.12 L2243.9,236.12 L2244.04,236.11 L2244.17,236.11 L2244.3,236.12 L2244.43,236.13 L2244.56,236.14 L2244.69,236.16 L2244.82,236.18 L2244.96,236.21 L2245.09,236.24 L2245.22,236.27 L2245.35,236.31 L2245.48,236.36 L2245.61,236.41 L2245.75,236.46 L2245.88,236.52 L2246.01,236.58 L2246.14,236.65 L2246.27,236.72 L2246.4,236.8 L2246.54,236.89 L2246.67,236.97 L2246.8,237.07 L2246.93,237.17 L2247.06,237.27 L2247.19,237.38 L2247.32,237.5 L2247.46,237.62 L2247.59,237.74 L2247.72,237.88 L2247.85,238.01 L2247.98,238.16 L2248.11,238.31 L2248.25,238.46 L2248.38,238.62 L2248.51,238.79 L2248.64,238.96 L2248.77,239.14 L2248.9,239.33 L2249.03,239.52 L2249.17,239.72 L2249.3,239.92 L2249.43,240.13 L2249.56,240.35 L2249.69,240.57 L2249.82,240.81 L2249.96,241.04 L2250.09,241.29 L2250.22,241.54 L2250.35,241.8 L2250.48,242.06 L2250.61,242.34 L2250.75,242.62 L2250.88,242.9 L2251.01,243.2 L2251.14,243.5 L2251.27,243.81 L2251.4,244.12 L2251.53,244.45 L2251.67,244.78 L2251.8,245.12 L2251.93,245.47 L2252.06,245.82 L2252.19,246.18 L2252.32,246.56 L2252.46,246.93 L2252.59,247.32 L2252.72,247.72 L2252.85,248.12 L2252.98,248.53 L2253.11,248.96 L2253.24,249.38 L2253.38,249.82 L2253.51,250.27 L2253.64,250.73 L2253.77,251.19 L2253.9,251.66 L2254.03,252.14 L2254.17,252.64 L2254.3,253.14 L2254.43,253.65 L2254.56,254.16 L2254.69,254.69 L2254.82,255.23 L2254.96,255.78 L2255.09,256.33 L2255.22,256.9 L2255.35,257.47 L2255.48,258.06 L2255.61,258.66 L2255.74,259.26 L2255.88,259.88 L2256.01,260.5 L2256.14,261.14 L2256.27,261.78 L2256.4,262.44 L2256.53,263.1 L2256.67,263.78 L2256.8,264.47 L2256.93,265.16 L2257.06,265.87 L2257.19,266.59 L2257.32,267.32 L2257.45,268.06 L2257.59,268.81 L2257.72,269.57 L2257.85,270.34 L2257.98,271.12 L2258.11,271.92 L2258.24,272.72 L2258.38,273.54 L2258.51,274.37 L2258.64,275.21 L2258.77,276.06 L2258.9,276.92 L2259.03,277.79 L2259.17,278.67 L2259.3,279.57 L2259.43,280.48 L2259.56,281.39 L2259.69,282.33 L2259.82,283.27 L2259.95,284.22 L2260.09,285.19 L2260.22,286.16 L2260.35,287.15 L2260.48,288.15 L2260.61,289.17 L2260.74,290.19 L2260.88,291.23 L2261.01,292.27 L2261.14,293.34 L2261.27,294.41 L2261.4,295.49 L2261.53,296.59 L2261.66,297.7 L2261.8,298.82 L2261.93,299.95 L2262.06,301.1 L2262.19,302.25 L2262.32,303.42 L2262.45,304.6 L2262.59,305.8 L2262.72,307 L2262.85,308.22 L2262.98,309.45 L2263.11,310.69 L2263.24,311.95 L2263.38,313.21 L2263.51,314.49 L2263.64,315.78 L2263.77,317.08 L2263.9,318.4 L2264.03,319.73 L2264.16,321.06 L2264.3,322.42 L2264.43,323.78 L2264.56,325.15 L2264.69,326.54 L2264.82,327.94 L2264.95,329.35 L2265.09,330.77 L2265.22,332.21 L2265.35,333.65 L2265.48,335.11 L2265.61,336.58 L2265.74,338.06 L2265.87,339.55 L2266.01,341.05 L2266.14,342.57 L2266.27,344.1 L2266.4,345.63 L2266.53,347.18 L2266.66,348.74 L2266.8,350.31 L2266.93,351.89 L2267.06,353.49 L2267.19,355.09 L2267.32,356.71 L2267.45,358.33 L2267.59,359.97 L2267.72,361.61 L2267.85,363.27 L2267.98,364.93 L2268.11,366.61 L2268.24,368.3 L2268.37,369.99 L2268.51,371.7 L2268.64,373.42 L2268.77,375.14 L2268.9,376.88 L2269.03,378.62 L2269.16,380.37 L2269.3,382.14 L2269.43,383.91 L2269.56,385.69 L2269.69,387.48 L2269.82,389.27 L2269.95,391.08 L2270.08,392.89 L2270.22,394.72 L2270.35,396.55 L2270.48,398.38 L2270.61,400.23 L2270.74,402.08 L2270.87,403.94 L2271.01,405.81 L2271.14,407.68 L2271.27,409.56 L2271.4,411.45 L2271.53,413.35 L2271.66,415.25 L2271.8,417.15 L2271.93,419.07 L2272.06,420.98 L2272.19,422.91 L2272.32,424.84 L2272.45,426.77 L2272.58,428.71 L2272.72,430.65 L2272.85,432.6 L2272.98,434.56 L2273.11,436.51 L2273.24,438.47 L2273.37,440.44 L2273.51,442.41 L2273.64,444.38 L2273.77,446.36 L2273.9,448.34 L2274.03,450.32 L2274.16,452.3 L2274.29,454.29 L2274.43,456.28 L2274.56,458.27 L2274.69,460.26 L2274.82,462.25 L2274.95,464.25 L2275.08,466.25 L2275.22,468.24 L2275.35,470.24 L2275.48,472.24 L2275.61,474.24 L2275.74,476.24 L2275.87,478.24 L2275.9,470.5" stroke="#128634" stroke-width="6.5" fill="none" stroke-linejoin="round"/>
<path d="M1750.7,443.05 L1753.87,442.88 L1757.04,442.71 L1760.22,442.54 L1763.39,442.37 L1766.56,442.19 L1769.73,442.02 L1772.91,441.84 L1776.08,441.66 L1779.25,441.48 L1782.42,441.29 L1785.6,441.1 L1788.77,440.91 L1791.94,440.72 L1795.11,440.53 L1798.29,440.33 L1801.46,440.13 L1804.63,439.93 L1807.8,439.73 L1810.97,439.52 L1814.15,439.31 L1817.32,439.1 L1820.49,438.88 L1823.66,438.66 L1826.84,438.44 L1830.01,438.22 L1833.18,437.99 L1836.35,437.77 L1839.53,437.53 L1842.7,437.3 L1845.87,437.06 L1849.04,436.82 L1852.22,436.57 L1855.39,436.32 L1858.56,436.07 L1861.73,435.82 L1864.9,435.56 L1868.08,435.29 L1871.25,435.03 L1874.42,434.76 L1877.59,434.48 L1880.77,434.2 L1883.94,433.92 L1887.11,433.63 L1890.28,433.34 L1893.46,433.05 L1896.63,432.75 L1899.8,432.44 L1902.97,432.13 L1906.15,431.82 L1909.32,431.5 L1912.49,431.18 L1915.66,430.85 L1918.83,430.51 L1922.01,430.17 L1925.18,429.83 L1928.35,429.48 L1931.52,429.12 L1934.7,428.76 L1937.87,428.39 L1941.04,428.02 L1944.21,427.63 L1947.39,427.25 L1950.56,426.85 L1953.73,426.45 L1956.9,426.04 L1960.08,425.63 L1963.25,425.21 L1966.42,424.78 L1969.59,424.34 L1972.76,423.89 L1975.94,423.44 L1979.11,422.98 L1982.28,422.5 L1985.45,422.02 L1988.63,421.54 L1991.8,421.04 L1994.97,420.53 L1998.14,420.01 L2001.32,419.48 L2004.49,418.95 L2007.66,418.4 L2010.83,417.84 L2014,417.27 L2017.18,416.69 L2020.35,416.09 L2023.52,415.49 L2026.69,414.87 L2029.87,414.24 L2033.04,413.59 L2036.21,412.93 L2039.38,412.26 L2042.56,411.57 L2045.73,410.87 L2048.9,410.15 L2052.07,409.42 L2055.25,408.67 L2058.42,407.91 L2061.59,407.13 L2064.76,406.33 L2067.93,405.51 L2071.11,404.67 L2074.28,403.82 L2077.45,402.95 L2080.62,402.05 L2083.8,401.14 L2086.97,400.2 L2090.14,399.25 L2093.31,398.27 L2096.49,397.27 L2099.66,396.25 L2102.83,395.2 L2106,394.13 L2109.18,393.03 L2112.35,391.92 L2115.52,390.77 L2118.69,389.6 L2121.86,388.41 L2125.04,387.19 L2128.21,385.95 L2131.38,384.68 L2134.55,383.38 L2137.73,382.06 L2140.9,380.72 L2144.07,379.35 L2147.24,377.97 L2150.42,376.56 L2153.59,375.14 L2156.76,373.69 L2159.93,372.24 L2163.11,370.78 L2166.28,369.31 L2169.45,367.84 L2172.62,366.38 L2175.79,364.93 L2178.97,363.51 L2182.14,362.11 L2185.31,360.77 L2188.48,359.47 L2191.66,358.26 L2194.83,357.13 L2198,356.12 L2201.17,355.25 L2204.35,354.54 L2207.52,354.03 L2210.69,353.76 L2213.86,353.76 L2217.04,354.08 L2220.21,354.76 L2223.38,355.87 L2223.51,355.93 L2223.64,355.99 L2223.77,356.04 L2223.91,356.1 L2224.04,356.16 L2224.17,356.22 L2224.3,356.28 L2224.43,356.34 L2224.56,356.41 L2224.7,356.47 L2224.83,356.53 L2224.96,356.6 L2225.09,356.67 L2225.22,356.73 L2225.35,356.8 L2225.49,356.87 L2225.62,356.94 L2225.75,357.01 L2225.88,357.08 L2226.01,357.15 L2226.14,357.23 L2226.27,357.3 L2226.41,357.38 L2226.54,357.45 L2226.67,357.53 L2226.8,357.61 L2226.93,357.69 L2227.06,357.77 L2227.2,357.85 L2227.33,357.93 L2227.46,358.01 L2227.59,358.1 L2227.72,358.18 L2227.85,358.27 L2227.98,358.35 L2228.12,358.44 L2228.25,358.53 L2228.38,358.62 L2228.51,358.71 L2228.64,358.8 L2228.77,358.89 L2228.91,358.99 L2229.04,359.08 L2229.17,359.18 L2229.3,359.27 L2229.43,359.37 L2229.56,359.47 L2229.7,359.57 L2229.83,359.67 L2229.96,359.77 L2230.09,359.87 L2230.22,359.98 L2230.35,360.08 L2230.48,360.19 L2230.62,360.3 L2230.75,360.4 L2230.88,360.51 L2231.01,360.62 L2231.14,360.73 L2231.27,360.85 L2231.41,360.96 L2231.54,361.07 L2231.67,361.19 L2231.8,361.31 L2231.93,361.42 L2232.06,361.54 L2232.19,361.66 L2232.33,361.79 L2232.46,361.91 L2232.59,362.03 L2232.72,362.16 L2232.85,362.28 L2232.98,362.41 L2233.12,362.54 L2233.25,362.67 L2233.38,362.8 L2233.51,362.93 L2233.64,363.06 L2233.77,363.19 L2233.91,363.33 L2234.04,363.46 L2234.17,363.6 L2234.3,363.74 L2234.43,363.88 L2234.56,364.02 L2234.69,364.16 L2234.83,364.31 L2234.96,364.45 L2235.09,364.6 L2235.22,364.74 L2235.35,364.89 L2235.48,365.04 L2235.62,365.19 L2235.75,365.34 L2235.88,365.5 L2236.01,365.65 L2236.14,365.81 L2236.27,365.96 L2236.4,366.12 L2236.54,366.28 L2236.67,366.44 L2236.8,366.6 L2236.93,366.77 L2237.06,366.93 L2237.19,367.1 L2237.33,367.26 L2237.46,367.43 L2237.59,367.6 L2237.72,367.77 L2237.85,367.94 L2237.98,368.12 L2238.12,368.29 L2238.25,368.47 L2238.38,368.65 L2238.51,368.83 L2238.64,369.01 L2238.77,369.19 L2238.9,369.37 L2239.04,369.55 L2239.17,369.74 L2239.3,369.93 L2239.43,370.11 L2239.56,370.3 L2239.69,370.49 L2239.83,370.69 L2239.96,370.88 L2240.09,371.07 L2240.22,371.27 L2240.35,371.47 L2240.48,371.67 L2240.61,371.87 L2240.75,372.07 L2240.88,372.27 L2241.01,372.48 L2241.14,372.68 L2241.27,372.89 L2241.4,373.1 L2241.54,373.31 L2241.67,373.52 L2241.8,373.73 L2241.93,373.95 L2242.06,374.16 L2242.19,374.38 L2242.33,374.6 L2242.46,374.82 L2242.59,375.04 L2242.72,375.26 L2242.85,375.49 L2242.98,375.71 L2243.11,375.94 L2243.25,376.17 L2243.38,376.4 L2243.51,376.63 L2243.64,376.86 L2243.77,377.09 L2243.9,377.33 L2244.04,377.57 L2244.17,377.81 L2244.3,378.05 L2244.43,378.29 L2244.56,378.53 L2244.69,378.77 L2244.82,379.02 L2244.96,379.27 L2245.09,379.52 L2245.22,379.77 L2245.35,380.02 L2245.48,380.27 L2245.61,380.53 L2245.75,380.78 L2245.88,381.04 L2246.01,381.3 L2246.14,381.56 L2246.27,381.82 L2246.4,382.09 L2246.54,382.35 L2246.67,382.62 L2246.8,382.89 L2246.93,383.16 L2247.06,383.43 L2247.19,383.7 L2247.32,383.97 L2247.46,384.25 L2247.59,384.53 L2247.72,384.8 L2247.85,385.08 L2247.98,385.37 L2248.11,385.65 L2248.25,385.93 L2248.38,386.22 L2248.51,386.51 L2248.64,386.8 L2248.77,387.09 L2248.9,387.38 L2249.03,387.67 L2249.17,387.97 L2249.3,388.26 L2249.43,388.56 L2249.56,388.86 L2249.69,389.16 L2249.82,389.47 L2249.96,389.77 L2250.09,390.08 L2250.22,390.38 L2250.35,390.69 L2250.48,391 L2250.61,391.31 L2250.75,391.63 L2250.88,391.94 L2251.01,392.26 L2251.14,392.57 L2251.27,392.89 L2251.4,393.21 L2251.53,393.54 L2251.67,393.86 L2251.8,394.19 L2251.93,394.51 L2252.06,394.84 L2252.19,395.17 L2252.32,395.5 L2252.46,395.83 L2252.59,396.17 L2252.72,396.5 L2252.85,396.84 L2252.98,397.18 L2253.11,397.52 L2253.24,397.86 L2253.38,398.2 L2253.51,398.55 L2253.64,398.89 L2253.77,399.24 L2253.9,399.59 L2254.03,399.94 L2254.17,400.29 L2254.3,400.65 L2254.43,401 L2254.56,401.36 L2254.69,401.71 L2254.82,402.07 L2254.96,402.43 L2255.09,402.8 L2255.22,403.16 L2255.35,403.52 L2255.48,403.89 L2255.61,404.26 L2255.74,404.63 L2255.88,405 L2256.01,405.37 L2256.14,405.74 L2256.27,406.12 L2256.4,406.49 L2256.53,406.87 L2256.67,407.25 L2256.8,407.63 L2256.93,408.01 L2257.06,408.4 L2257.19,408.78 L2257.32,409.17 L2257.45,409.55 L2257.59,409.94 L2257.72,410.33 L2257.85,410.72 L2257.98,411.12 L2258.11,411.51 L2258.24,411.91 L2258.38,412.3 L2258.51,412.7 L2258.64,413.1 L2258.77,413.5 L2258.9,413.9 L2259.03,414.31 L2259.17,414.71 L2259.3,415.12 L2259.43,415.52 L2259.56,415.93 L2259.69,416.34 L2259.82,416.75 L2259.95,417.17 L2260.09,417.58 L2260.22,418 L2260.35,418.41 L2260.48,418.83 L2260.61,419.25 L2260.74,419.67 L2260.88,420.09 L2261.01,420.51 L2261.14,420.93 L2261.27,421.36 L2261.4,421.78 L2261.53,422.21 L2261.66,422.64 L2261.8,423.07 L2261.93,423.5 L2262.06,423.93 L2262.19,424.36 L2262.32,424.8 L2262.45,425.23 L2262.59,425.67 L2262.72,426.11 L2262.85,426.55 L2262.98,426.98 L2263.11,427.43 L2263.24,427.87 L2263.38,428.31 L2263.51,428.75 L2263.64,429.2 L2263.77,429.64 L2263.9,430.09 L2264.03,430.54 L2264.16,430.99 L2264.3,431.44 L2264.43,431.89 L2264.56,432.34 L2264.69,432.79 L2264.82,433.25 L2264.95,433.7 L2265.09,434.16 L2265.22,434.62 L2265.35,435.07 L2265.48,435.53 L2265.61,435.99 L2265.74,436.45 L2265.87,436.91 L2266.01,437.38 L2266.14,437.84 L2266.27,438.3 L2266.4,438.77 L2266.53,439.23 L2266.66,439.7 L2266.8,440.17 L2266.93,440.64 L2267.06,441.1 L2267.19,441.57 L2267.32,442.04 L2267.45,442.52 L2267.59,442.99 L2267.72,443.46 L2267.85,443.93 L2267.98,444.41 L2268.11,444.88 L2268.24,445.36 L2268.37,445.83 L2268.51,446.31 L2268.64,446.79 L2268.77,447.27 L2268.9,447.75 L2269.03,448.23 L2269.16,448.71 L2269.3,449.19 L2269.43,449.67 L2269.56,450.15 L2269.69,450.63 L2269.82,451.12 L2269.95,451.6 L2270.08,452.08 L2270.22,452.57 L2270.35,453.05 L2270.48,453.54 L2270.61,454.03 L2270.74,454.51 L2270.87,455 L2271.01,455.49 L2271.14,455.97 L2271.27,456.46 L2271.4,456.95 L2271.53,457.44 L2271.66,457.93 L2271.8,458.42 L2271.93,458.91 L2272.06,459.4 L2272.19,459.89 L2272.32,460.38 L2272.45,460.88 L2272.58,461.37 L2272.72,461.86 L2272.85,462.35 L2272.98,462.85 L2273.11,463.34 L2273.24,463.83 L2273.37,464.32 L2273.51,464.82 L2273.64,465.31 L2273.77,465.81 L2273.9,466.3 L2274.03,466.8 L2274.16,467.29 L2274.29,467.78 L2274.43,468.28 L2274.56,468.77 L2274.69,469.27 L2274.82,469.76 L2274.95,470.26 L2275.08,470.75 L2275.22,471.25 L2275.35,471.75 L2275.48,472.24 L2275.61,472.74 L2275.74,473.23 L2275.87,473.73 L2275.9,470.5" stroke="#e31e24" stroke-width="6.5" fill="none" stroke-linejoin="round"/>
</g>
<rect x="1750.7" y="142" width="525.2" height="328.5" fill="none" stroke="#000" stroke-width="4.6"/>
<path d="M1803.22 470.5v-6.5M1803.22 142v6.5M1855.74 470.5v-6.5M1855.74 142v6.5M1908.26 470.5v-6.5M1908.26 142v6.5M1960.78 470.5v-6.5M1960.78 142v6.5M2013.3 470.5v-6.5M2013.3 142v6.5M2065.82 470.5v-6.5M2065.82 142v6.5M2118.34 470.5v-6.5M2118.34 142v6.5M2170.86 470.5v-6.5M2170.86 142v6.5M2223.38 470.5v-6.5M2223.38 142v6.5M1750.7 361h6.5M2275.9 361h-6.5M1750.7 251.5h6.5M2275.9 251.5h-6.5" stroke="#000" stroke-width="4.6" fill="none"/>
<text transform="translate(1746.84,515.20) scale(1,1.035)" style="font-family:'Liberation Sans',Arial,sans-serif;font-size:37.5px">0</text>
<text transform="translate(1829.14,515.20) scale(1,1.035)" style="font-family:'Liberation Sans',Arial,sans-serif;font-size:37.5px">0.2</text>
<text transform="translate(1935.24,515.20) scale(1,1.035)" style="font-family:'Liberation Sans',Arial,sans-serif;font-size:37.5px">0.4</text>
<text transform="translate(2036.74,515.20) scale(1,1.035)" style="font-family:'Liberation Sans',Arial,sans-serif;font-size:37.5px">0.6</text>
<text transform="translate(2146.24,515.20) scale(1,1.035)" style="font-family:'Liberation Sans',Arial,sans-serif;font-size:37.5px">0.8</text>
<text transform="translate(2263.57,515.20) scale(1,1.035)" clip-path="url(#c1_8)" style="font-family:'Liberation Sans',Arial,sans-serif;font-size:37.5px">1</text>
<text transform="translate(1701.99,161.60) scale(1,1.035)" clip-path="url(#c1_9)" style="font-family:'Liberation Sans',Arial,sans-serif;font-size:37.5px">1</text><text transform="translate(1721.72,161.60) scale(1,1.035)" style="font-family:'Liberation Sans',Arial,sans-serif;font-size:37.5px">5</text>
<text transform="translate(1701.88,265.60) scale(1,1.035)" clip-path="url(#c1_10)" style="font-family:'Liberation Sans',Arial,sans-serif;font-size:37.5px">1</text><text transform="translate(1721.61,265.60) scale(1,1.035)" style="font-family:'Liberation Sans',Arial,sans-serif;font-size:37.5px">0</text>
<text transform="translate(1721.72,375.00) scale(1,1.035)" style="font-family:'Liberation Sans',Arial,sans-serif;font-size:37.5px">5</text>
<text transform="translate(1718.71,479.00) scale(1,1.035)" style="font-family:'Liberation Sans',Arial,sans-serif;font-size:37.5px">0</text>
<text transform="translate(1703.10,0.00) rotate(-90)" style="font-family:'Liberation Serif','Times New Roman',serif;font-size:48.5px"><tspan x="-331.34" y="0.00" style="font-style:italic">N</tspan><tspan x="-294.86" y="6.00" style="font-size:60px">′</tspan></text>
<text transform="translate(1976.73,556.18) scale(1.4398,1.0173)" style="font-family:'Liberation Serif','Times New Roman',serif;font-size:50px">-</text>
<text style="font-family:'Liberation Serif','Times New Roman',serif;font-size:50px"><tspan x="2000.69" y="560.50" style="font-style:italic">K</tspan><tspan x="2037.34" y="565.50" style="font-size:58px">′</tspan></text>
<path d="M1780.3 183.4H1845.3" stroke="#1f4c9e" stroke-width="6.6" />
<text transform="translate(1914.82,194.78) scale(0.9971,0.7520)" style="font-family:'Liberation Serif','Times New Roman',serif;font-size:50px">=</text>
<text style="font-family:'Liberation Serif','Times New Roman',serif;font-size:43.5px"><tspan x="1858.71" y="197.70" style="font-style:italic">K</tspan><tspan x="1890.69" y="201.50" style="font-size:50px">″</tspan><tspan x="1952.04" y="197.70">0</tspan><tspan x="1983.89" y="197.70">(lossless)</tspan></text>
<path d="M1780.3 236.7H1845.3" stroke="#128634" stroke-width="6.6" />
<text transform="translate(1951.89,244.71) scale(1.0856,0.5354)" style="font-family:'Liberation Serif','Times New Roman',serif;font-size:50px">-</text>
<text transform="translate(1914.96,246.58) scale(0.9799,0.7520)" style="font-family:'Liberation Serif','Times New Roman',serif;font-size:50px">=</text>
<text style="font-family:'Liberation Serif','Times New Roman',serif;font-size:43.5px"><tspan x="1858.61" y="249.50" style="font-style:italic">K</tspan><tspan x="1890.89" y="253.30" style="font-size:50px">″</tspan><tspan x="1970.44" y="249.50">0.06</tspan></text>
<path d="M1780.3 286.6H1845.3" stroke="#e31e24" stroke-width="6.6" />
<text transform="translate(1951.89,296.41) scale(1.0856,0.5354)" style="font-family:'Liberation Serif','Times New Roman',serif;font-size:50px">-</text>
<text transform="translate(1914.96,298.28) scale(0.9799,0.7520)" style="font-family:'Liberation Serif','Times New Roman',serif;font-size:50px">=</text>
<text style="font-family:'Liberation Serif','Times New Roman',serif;font-size:43.5px"><tspan x="1858.61" y="301.20" style="font-style:italic">K</tspan><tspan x="1890.89" y="305.00" style="font-size:50px">″</tspan><tspan x="1970.44" y="301.20">0.12</tspan></text>
<defs><clipPath id="c1_0"><rect x="-2" y="-48.00" width="30.70" height="43.45"/><rect x="11.87" y="-14.40" width="4.64" height="16.40"/></clipPath><clipPath id="c1_1"><rect x="-2" y="-48.00" width="30.70" height="43.45"/><rect x="11.87" y="-14.40" width="4.64" height="16.40"/></clipPath><clipPath id="c1_2"><rect x="-2" y="-48.00" width="30.70" height="43.45"/><rect x="11.87" y="-14.40" width="4.64" height="16.40"/></clipPath><clipPath id="c1_3"><rect x="-2" y="-48.00" width="30.70" height="43.45"/><rect x="11.87" y="-14.40" width="4.64" height="16.40"/></clipPath><clipPath id="c1_4"><rect x="-2" y="-48.00" width="30.70" height="43.45"/><rect x="11.87" y="-14.40" width="4.64" height="16.40"/></clipPath><clipPath id="c1_5"><rect x="-2" y="-48.00" width="30.70" height="43.45"/><rect x="11.87" y="-14.40" width="4.64" height="16.40"/></clipPath><clipPath id="c1_6"><rect x="-2" y="-48.00" width="30.70" height="43.45"/><rect x="11.87" y="-14.40" width="4.64" height="16.40"/></clipPath><clipPath id="c1_7"><rect x="-2" y="-48.00" width="30.70" height="43.45"/><rect x="11.87" y="-14.40" width="4.64" height="16.40"/></clipPath><clipPath id="c1_8"><rect x="-2" y="-37.50" width="24.86" height="33.73"/><rect x="9.23" y="-11.25" width="3.71" height="13.25"/></clipPath><clipPath id="c1_9"><rect x="-2" y="-37.50" width="24.86" height="33.73"/><rect x="9.23" y="-11.25" width="3.71" height="13.25"/></clipPath><clipPath id="c1_10"><rect x="-2" y="-37.50" width="24.86" height="33.73"/><rect x="9.23" y="-11.25" width="3.71" height="13.25"/></clipPath></defs>
</svg>
</body></html>
